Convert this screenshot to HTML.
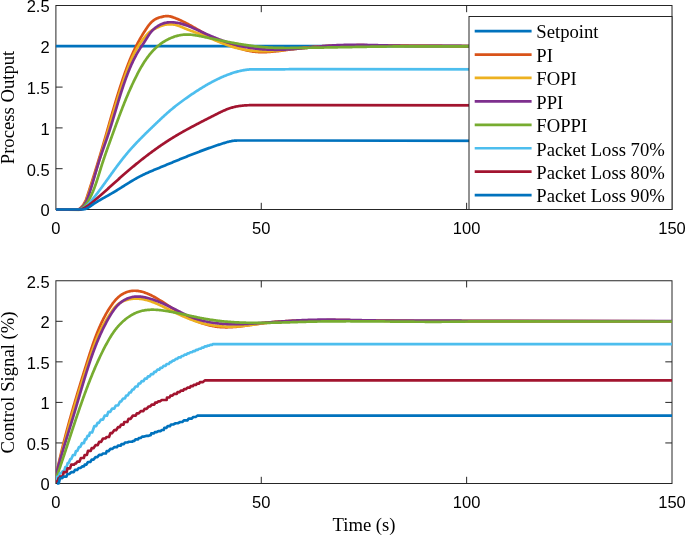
<!DOCTYPE html>
<html><head><meta charset="utf-8"><style>
html,body{margin:0;padding:0;background:#fff;width:685px;height:535px;overflow:hidden}
svg{display:block;will-change:transform}
.tk{font-family:"Liberation Sans",sans-serif;font-size:16.5px;fill:#000}
.lg{font-family:"Liberation Serif",serif;font-size:18.67px;fill:#000}
.lb{font-family:"Liberation Serif",serif;font-size:18.67px;fill:#000}
</style></head><body>
<svg width="685" height="535" viewBox="0 0 685 535">
<defs>
<clipPath id="ct"><rect x="55.9" y="5.5" width="616.10" height="206.00"/></clipPath>
<clipPath id="cb"><rect x="55.9" y="280.75" width="616.10" height="204.75"/></clipPath>
</defs>
<g class="ax">
<rect x="55.9" y="5.5" width="616.10" height="204.00" fill="none" stroke="#262626" stroke-width="1"/>
<line x1="261.27" y1="209.5" x2="261.27" y2="202.8" stroke="#262626" stroke-width="1"/><line x1="261.27" y1="5.5" x2="261.27" y2="12.2" stroke="#262626" stroke-width="1"/>
<line x1="466.63" y1="209.5" x2="466.63" y2="202.8" stroke="#262626" stroke-width="1"/><line x1="466.63" y1="5.5" x2="466.63" y2="12.2" stroke="#262626" stroke-width="1"/>
<line x1="55.9" y1="168.70" x2="62.6" y2="168.70" stroke="#262626" stroke-width="1"/><line x1="672.0" y1="168.70" x2="665.3" y2="168.70" stroke="#262626" stroke-width="1"/>
<line x1="55.9" y1="127.90" x2="62.6" y2="127.90" stroke="#262626" stroke-width="1"/><line x1="672.0" y1="127.90" x2="665.3" y2="127.90" stroke="#262626" stroke-width="1"/>
<line x1="55.9" y1="87.10" x2="62.6" y2="87.10" stroke="#262626" stroke-width="1"/><line x1="672.0" y1="87.10" x2="665.3" y2="87.10" stroke="#262626" stroke-width="1"/>
<line x1="55.9" y1="46.30" x2="62.6" y2="46.30" stroke="#262626" stroke-width="1"/><line x1="672.0" y1="46.30" x2="665.3" y2="46.30" stroke="#262626" stroke-width="1"/>

<rect x="55.9" y="280.75" width="616.10" height="202.75" fill="none" stroke="#262626" stroke-width="1"/>
<line x1="261.27" y1="483.5" x2="261.27" y2="476.8" stroke="#262626" stroke-width="1"/><line x1="261.27" y1="280.75" x2="261.27" y2="287.45" stroke="#262626" stroke-width="1"/>
<line x1="466.63" y1="483.5" x2="466.63" y2="476.8" stroke="#262626" stroke-width="1"/><line x1="466.63" y1="280.75" x2="466.63" y2="287.45" stroke="#262626" stroke-width="1"/>
<line x1="55.9" y1="442.95" x2="62.6" y2="442.95" stroke="#262626" stroke-width="1"/><line x1="672.0" y1="442.95" x2="665.3" y2="442.95" stroke="#262626" stroke-width="1"/>
<line x1="55.9" y1="402.40" x2="62.6" y2="402.40" stroke="#262626" stroke-width="1"/><line x1="672.0" y1="402.40" x2="665.3" y2="402.40" stroke="#262626" stroke-width="1"/>
<line x1="55.9" y1="361.85" x2="62.6" y2="361.85" stroke="#262626" stroke-width="1"/><line x1="672.0" y1="361.85" x2="665.3" y2="361.85" stroke="#262626" stroke-width="1"/>
<line x1="55.9" y1="321.30" x2="62.6" y2="321.30" stroke="#262626" stroke-width="1"/><line x1="672.0" y1="321.30" x2="665.3" y2="321.30" stroke="#262626" stroke-width="1"/>

</g>
<g fill="none" stroke-width="2.7" stroke-linejoin="round" stroke-linecap="butt">
<path d="M55.90,46.20 L672.00,46.20" stroke="#0072BD" clip-path="url(#ct)"/>
<path d="M55.90,209.50 L77.54,209.54 L78.35,209.25 L79.13,208.87 L79.88,208.39 L80.59,207.83 L81.27,207.22 L81.92,206.54 L82.53,205.83 L83.09,205.09 L83.62,204.33 L84.10,203.56 L84.55,202.77 L84.97,201.97 L85.36,201.15 L85.73,200.33 L86.07,199.50 L86.39,198.66 L86.70,197.81 L87.00,196.96 L87.29,196.10 L87.57,195.24 L87.85,194.38 L88.13,193.52 L88.41,192.66 L88.69,191.80 L88.97,190.94 L89.25,190.08 L89.52,189.22 L89.80,188.36 L90.08,187.50 L90.35,186.64 L90.63,185.78 L90.90,184.92 L91.18,184.06 L91.45,183.19 L91.73,182.33 L92.00,181.47 L92.27,180.61 L92.54,179.74 L92.82,178.88 L93.09,178.02 L93.36,177.15 L93.63,176.29 L93.90,175.43 L94.17,174.56 L94.44,173.70 L94.70,172.84 L94.97,171.97 L95.24,171.11 L95.51,170.24 L95.77,169.38 L96.04,168.51 L96.30,167.65 L96.57,166.78 L96.83,165.92 L97.10,165.05 L97.36,164.18 L97.62,163.32 L97.89,162.45 L98.15,161.58 L98.41,160.72 L98.67,159.85 L98.94,158.98 L99.20,158.12 L99.46,157.25 L99.72,156.38 L99.98,155.52 L100.23,154.65 L100.49,153.78 L100.75,152.91 L101.01,152.04 L101.27,151.18 L101.52,150.31 L101.78,149.44 L102.04,148.57 L102.29,147.70 L102.55,146.83 L102.80,145.96 L103.06,145.09 L103.31,144.22 L103.57,143.36 L103.82,142.49 L104.07,141.62 L104.33,140.75 L104.58,139.88 L104.83,139.01 L105.08,138.14 L105.34,137.27 L105.59,136.40 L105.84,135.52 L106.09,134.65 L106.34,133.78 L106.59,132.91 L106.84,132.04 L107.09,131.17 L107.34,130.30 L107.58,129.43 L107.83,128.56 L108.08,127.69 L108.33,126.82 L108.58,125.94 L108.83,125.07 L109.08,124.20 L109.33,123.33 L109.57,122.46 L109.82,121.59 L110.07,120.72 L110.32,119.85 L110.57,118.98 L110.82,118.10 L111.07,117.23 L111.32,116.36 L111.57,115.49 L111.82,114.62 L112.07,113.75 L112.32,112.88 L112.58,112.01 L112.83,111.14 L113.08,110.27 L113.33,109.40 L113.59,108.53 L113.84,107.66 L114.10,106.79 L114.35,105.93 L114.61,105.06 L114.87,104.19 L115.12,103.32 L115.38,102.45 L115.64,101.58 L115.90,100.72 L116.16,99.85 L116.42,98.98 L116.69,98.12 L116.95,97.25 L117.21,96.39 L117.48,95.52 L117.75,94.65 L118.01,93.79 L118.28,92.93 L118.55,92.06 L118.82,91.20 L119.09,90.33 L119.36,89.47 L119.64,88.61 L119.91,87.75 L120.19,86.88 L120.47,86.02 L120.75,85.16 L121.03,84.30 L121.31,83.44 L121.59,82.58 L121.88,81.72 L122.16,80.86 L122.45,80.01 L122.74,79.15 L123.03,78.29 L123.32,77.44 L123.62,76.58 L123.91,75.72 L124.21,74.87 L124.51,74.02 L124.81,73.16 L125.11,72.31 L125.42,71.46 L125.72,70.61 L126.03,69.75 L126.34,68.90 L126.66,68.06 L126.97,67.21 L127.29,66.36 L127.61,65.52 L127.94,64.67 L128.26,63.83 L128.59,62.99 L128.93,62.14 L129.26,61.30 L129.60,60.47 L129.94,59.63 L130.29,58.79 L130.64,57.96 L130.99,57.13 L131.35,56.30 L131.71,55.47 L132.08,54.64 L132.44,53.81 L132.82,52.99 L133.19,52.17 L133.57,51.34 L133.96,50.53 L134.35,49.71 L134.75,48.89 L135.14,48.08 L135.55,47.27 L135.96,46.46 L136.37,45.65 L136.78,44.85 L137.21,44.05 L137.63,43.25 L138.06,42.45 L138.49,41.65 L138.93,40.85 L139.37,40.06 L139.82,39.27 L140.27,38.48 L140.72,37.69 L141.18,36.91 L141.65,36.13 L142.11,35.35 L142.58,34.57 L143.06,33.79 L143.53,33.02 L144.01,32.24 L144.50,31.47 L144.99,30.70 L145.48,29.94 L145.98,29.17 L146.48,28.41 L146.99,27.66 L147.50,26.91 L148.03,26.18 L148.57,25.46 L149.13,24.75 L149.69,24.06 L150.28,23.39 L150.89,22.74 L151.51,22.11 L152.16,21.51 L152.83,20.94 L153.53,20.39 L154.26,19.88 L155.01,19.41 L155.80,18.97 L156.62,18.56 L157.47,18.20 L158.35,17.87 L159.25,17.58 L160.16,17.31 L161.08,17.07 L162.00,16.84 L162.91,16.63 L163.81,16.44 L164.71,16.28 L165.60,16.15 L166.49,16.07 L167.37,16.06 L168.25,16.11 L169.12,16.22 L170.00,16.39 L170.87,16.60 L171.74,16.84 L172.61,17.12 L173.47,17.42 L174.32,17.74 L175.17,18.07 L176.02,18.40 L176.86,18.74 L177.70,19.09 L178.54,19.45 L179.37,19.82 L180.19,20.19 L181.02,20.57 L181.83,20.96 L182.65,21.35 L183.46,21.75 L184.27,22.15 L185.08,22.56 L185.89,22.98 L186.69,23.40 L187.49,23.82 L188.29,24.25 L189.08,24.68 L189.88,25.12 L190.67,25.55 L191.46,25.99 L192.25,26.44 L193.04,26.88 L193.83,27.33 L194.61,27.78 L195.40,28.23 L196.19,28.68 L196.97,29.13 L197.76,29.58 L198.55,30.04 L199.33,30.49 L200.12,30.94 L200.91,31.39 L201.69,31.84 L202.48,32.29 L203.27,32.74 L204.06,33.19 L204.85,33.63 L205.64,34.08 L206.43,34.52 L207.22,34.96 L208.02,35.39 L208.81,35.82 L209.61,36.25 L210.41,36.68 L211.21,37.10 L212.01,37.52 L212.82,37.93 L213.62,38.34 L214.43,38.74 L215.24,39.14 L216.06,39.53 L216.88,39.92 L217.69,40.30 L218.52,40.68 L219.34,41.05 L220.17,41.41 L221.00,41.77 L221.83,42.12 L222.66,42.47 L223.50,42.81 L224.34,43.15 L225.18,43.49 L226.03,43.81 L226.87,44.14 L227.72,44.46 L228.57,44.77 L229.42,45.08 L230.27,45.39 L231.13,45.69 L231.99,45.99 L232.85,46.29 L233.71,46.58 L234.57,46.87 L235.43,47.16 L236.30,47.44 L237.17,47.72 L238.03,47.99 L238.90,48.26 L239.78,48.53 L240.65,48.79 L241.52,49.04 L242.40,49.28 L243.28,49.52 L244.16,49.76 L245.04,49.98 L245.92,50.19 L246.80,50.40 L247.69,50.60 L248.57,50.78 L249.46,50.96 L250.35,51.13 L251.24,51.28 L252.13,51.42 L253.03,51.55 L253.92,51.67 L254.82,51.77 L255.72,51.86 L256.62,51.94 L257.52,52.00 L258.42,52.05 L259.33,52.09 L260.23,52.12 L261.14,52.14 L262.04,52.15 L262.95,52.14 L263.85,52.13 L264.76,52.11 L265.67,52.08 L266.57,52.05 L267.48,52.00 L268.38,51.95 L269.29,51.89 L270.19,51.83 L271.09,51.76 L272.00,51.69 L272.90,51.61 L273.80,51.52 L274.70,51.43 L275.60,51.34 L276.51,51.24 L277.41,51.14 L278.31,51.04 L279.21,50.93 L280.11,50.82 L281.01,50.70 L281.91,50.59 L282.81,50.47 L283.70,50.35 L284.60,50.23 L285.50,50.10 L286.40,49.98 L287.30,49.85 L288.20,49.73 L289.10,49.60 L290.00,49.48 L290.89,49.35 L291.79,49.23 L292.69,49.10 L293.59,48.98 L294.49,48.86 L295.39,48.74 L296.29,48.62 L297.19,48.51 L298.09,48.40 L298.98,48.29 L299.88,48.18 L300.78,48.07 L301.68,47.97 L302.58,47.87 L303.48,47.77 L304.38,47.68 L305.29,47.58 L306.19,47.49 L307.09,47.40 L307.99,47.32 L308.89,47.23 L309.79,47.15 L310.69,47.07 L311.59,46.99 L312.49,46.91 L313.40,46.84 L314.30,46.77 L315.20,46.70 L316.10,46.63 L317.01,46.56 L317.91,46.50 L318.81,46.44 L319.71,46.38 L320.62,46.32 L321.52,46.26 L322.42,46.21 L323.32,46.15 L324.23,46.10 L325.13,46.05 L326.03,46.00 L326.94,45.96 L327.84,45.91 L328.75,45.87 L329.65,45.83 L330.55,45.79 L331.46,45.75 L332.36,45.71 L333.27,45.68 L334.17,45.65 L335.07,45.61 L335.98,45.58 L336.88,45.55 L337.79,45.53 L338.69,45.50 L339.60,45.47 L340.50,45.45 L341.41,45.43 L342.31,45.41 L343.22,45.39 L344.12,45.37 L345.03,45.35 L345.93,45.33 L346.84,45.32 L347.74,45.31 L348.65,45.29 L349.55,45.28 L350.46,45.27 L351.36,45.26 L352.27,45.25 L353.18,45.24 L354.08,45.24 L354.99,45.23 L355.89,45.23 L356.80,45.22 L357.70,45.22 L358.61,45.22 L359.52,45.22 L360.42,45.22 L361.33,45.22 L362.23,45.22 L363.14,45.22 L364.05,45.22 L364.95,45.23 L365.86,45.23 L366.76,45.23 L367.67,45.24 L368.58,45.25 L369.48,45.25 L370.39,45.26 L371.30,45.27 L372.20,45.27 L373.11,45.28 L374.01,45.29 L374.92,45.30 L375.83,45.31 L376.73,45.32 L377.64,45.33 L378.55,45.34 L379.45,45.35 L380.36,45.36 L381.26,45.37 L382.17,45.39 L383.08,45.40 L383.98,45.41 L384.89,45.42 L385.79,45.43 L386.70,45.45 L387.61,45.46 L388.51,45.47 L389.42,45.49 L390.32,45.50 L391.23,45.51 L392.14,45.52 L393.04,45.54 L393.95,45.55 L394.85,45.56 L395.76,45.57 L396.67,45.59 L397.57,45.60 L398.48,45.61 L399.38,45.62 L400.29,45.63 L401.19,45.64 L402.10,45.65 L403.00,45.66 L403.91,45.67 L404.81,45.68 L405.72,45.69 L406.63,45.70 L407.53,45.71 L408.44,45.72 L409.34,45.73 L410.25,45.74 L411.15,45.75 L412.06,45.76 L412.96,45.77 L413.87,45.77 L414.77,45.78 L415.68,45.79 L416.58,45.80 L417.49,45.80 L418.39,45.81 L419.30,45.82 L420.20,45.82 L421.10,45.83 L422.01,45.84 L422.91,45.85 L423.82,45.85 L424.72,45.86 L425.63,45.86 L426.53,45.87 L427.44,45.88 L428.34,45.88 L429.25,45.89 L430.15,45.89 L431.06,45.90 L431.96,45.91 L432.87,45.91 L433.77,45.92 L434.68,45.92 L435.58,45.93 L436.49,45.94 L437.39,45.94 L438.30,45.95 L439.20,45.95 L440.11,45.96 L441.01,45.96 L441.92,45.97 L442.82,45.98 L443.73,45.98 L444.63,45.99 L445.54,45.99 L446.44,46.00 L447.35,46.01 L448.25,46.01 L449.16,46.02 L450.06,46.03 L450.97,46.03 L451.88,46.04 L452.78,46.05 L453.69,46.05 L454.59,46.06 L455.50,46.07 L456.40,46.07 L457.31,46.08 L458.22,46.09 L459.12,46.10 L460.03,46.10 L460.93,46.11 L461.84,46.12 L462.75,46.13 L463.65,46.14 L464.56,46.14 L465.47,46.15 L466.37,46.16 L467.28,46.17 L468.19,46.18 L469.09,46.19 L470.00,46.20" stroke="#D95319" clip-path="url(#ct)"/>
<path d="M55.90,209.50 L78.02,209.59 L78.84,209.26 L79.62,208.86 L80.36,208.38 L81.06,207.83 L81.72,207.24 L82.35,206.59 L82.93,205.91 L83.48,205.20 L83.99,204.47 L84.47,203.72 L84.92,202.96 L85.33,202.19 L85.72,201.40 L86.09,200.59 L86.44,199.78 L86.77,198.96 L87.09,198.13 L87.39,197.30 L87.69,196.46 L87.97,195.62 L88.26,194.78 L88.54,193.94 L88.83,193.10 L89.11,192.26 L89.39,191.41 L89.67,190.57 L89.95,189.73 L90.23,188.88 L90.51,188.04 L90.78,187.20 L91.06,186.35 L91.34,185.51 L91.61,184.66 L91.89,183.82 L92.16,182.98 L92.43,182.13 L92.70,181.29 L92.97,180.44 L93.24,179.60 L93.51,178.75 L93.78,177.90 L94.05,177.06 L94.32,176.21 L94.59,175.37 L94.85,174.52 L95.12,173.67 L95.38,172.83 L95.65,171.98 L95.91,171.13 L96.17,170.29 L96.44,169.44 L96.70,168.59 L96.96,167.75 L97.22,166.90 L97.48,166.05 L97.74,165.20 L98.00,164.36 L98.26,163.51 L98.52,162.66 L98.78,161.81 L99.04,160.96 L99.29,160.11 L99.55,159.27 L99.81,158.42 L100.06,157.57 L100.32,156.72 L100.57,155.87 L100.83,155.02 L101.08,154.17 L101.34,153.32 L101.59,152.47 L101.85,151.62 L102.10,150.77 L102.35,149.92 L102.61,149.07 L102.86,148.22 L103.11,147.37 L103.36,146.52 L103.62,145.67 L103.87,144.82 L104.12,143.97 L104.37,143.12 L104.62,142.27 L104.87,141.42 L105.12,140.57 L105.37,139.72 L105.63,138.87 L105.88,138.02 L106.13,137.17 L106.38,136.32 L106.63,135.47 L106.88,134.62 L107.13,133.77 L107.38,132.91 L107.63,132.06 L107.88,131.21 L108.13,130.36 L108.38,129.51 L108.63,128.66 L108.88,127.81 L109.13,126.96 L109.38,126.10 L109.64,125.25 L109.89,124.40 L110.14,123.55 L110.39,122.70 L110.64,121.85 L110.89,121.00 L111.15,120.15 L111.40,119.30 L111.65,118.45 L111.91,117.60 L112.16,116.74 L112.41,115.89 L112.67,115.04 L112.92,114.19 L113.18,113.34 L113.43,112.49 L113.69,111.64 L113.94,110.79 L114.20,109.94 L114.46,109.10 L114.71,108.25 L114.97,107.40 L115.23,106.55 L115.49,105.70 L115.75,104.85 L116.01,104.00 L116.27,103.15 L116.53,102.31 L116.79,101.46 L117.06,100.61 L117.32,99.76 L117.58,98.92 L117.85,98.07 L118.11,97.22 L118.38,96.38 L118.65,95.53 L118.92,94.68 L119.18,93.84 L119.45,92.99 L119.72,92.15 L119.99,91.30 L120.26,90.46 L120.54,89.61 L120.81,88.77 L121.08,87.93 L121.36,87.08 L121.64,86.24 L121.91,85.40 L122.19,84.55 L122.47,83.71 L122.75,82.87 L123.03,82.03 L123.31,81.19 L123.60,80.35 L123.88,79.51 L124.16,78.67 L124.45,77.83 L124.74,76.99 L125.03,76.15 L125.32,75.31 L125.61,74.47 L125.90,73.64 L126.19,72.80 L126.49,71.97 L126.79,71.13 L127.09,70.30 L127.39,69.46 L127.70,68.63 L128.00,67.80 L128.32,66.97 L128.63,66.14 L128.95,65.32 L129.27,64.49 L129.60,63.67 L129.93,62.85 L130.27,62.03 L130.61,61.21 L130.95,60.40 L131.30,59.58 L131.66,58.77 L132.02,57.96 L132.39,57.16 L132.76,56.35 L133.14,55.55 L133.53,54.76 L133.92,53.96 L134.32,53.17 L134.73,52.38 L135.14,51.60 L135.57,50.81 L136.00,50.04 L136.44,49.26 L136.88,48.49 L137.34,47.72 L137.80,46.96 L138.27,46.20 L138.75,45.44 L139.23,44.69 L139.72,43.95 L140.22,43.21 L140.73,42.48 L141.25,41.75 L141.77,41.02 L142.30,40.31 L142.83,39.60 L143.38,38.89 L143.93,38.20 L144.48,37.50 L145.05,36.82 L145.62,36.15 L146.19,35.48 L146.78,34.82 L147.37,34.17 L147.98,33.55 L148.61,32.94 L149.25,32.35 L149.92,31.79 L150.61,31.25 L151.32,30.75 L152.06,30.28 L152.82,29.83 L153.60,29.41 L154.39,29.00 L155.20,28.61 L156.01,28.22 L156.82,27.84 L157.63,27.46 L158.45,27.08 L159.26,26.71 L160.08,26.36 L160.91,26.03 L161.74,25.71 L162.58,25.43 L163.43,25.17 L164.29,24.95 L165.16,24.76 L166.03,24.60 L166.91,24.47 L167.79,24.38 L168.67,24.31 L169.56,24.28 L170.44,24.28 L171.33,24.31 L172.21,24.38 L173.08,24.47 L173.96,24.60 L174.82,24.77 L175.68,24.96 L176.54,25.19 L177.38,25.44 L178.22,25.72 L179.06,26.02 L179.89,26.33 L180.72,26.66 L181.55,26.99 L182.38,27.34 L183.20,27.69 L184.02,28.04 L184.85,28.38 L185.67,28.72 L186.50,29.06 L187.33,29.39 L188.16,29.71 L188.99,30.02 L189.82,30.34 L190.65,30.65 L191.48,30.95 L192.31,31.26 L193.14,31.56 L193.97,31.86 L194.80,32.16 L195.63,32.47 L196.46,32.77 L197.29,33.07 L198.12,33.38 L198.95,33.69 L199.78,34.00 L200.60,34.31 L201.43,34.63 L202.25,34.96 L203.07,35.28 L203.90,35.61 L204.72,35.95 L205.54,36.28 L206.36,36.62 L207.18,36.96 L207.99,37.30 L208.81,37.64 L209.63,37.98 L210.45,38.32 L211.27,38.67 L212.08,39.01 L212.90,39.36 L213.72,39.70 L214.54,40.04 L215.36,40.38 L216.18,40.73 L217.00,41.07 L217.82,41.40 L218.64,41.74 L219.46,42.07 L220.29,42.40 L221.11,42.73 L221.93,43.06 L222.76,43.38 L223.59,43.70 L224.42,44.01 L225.25,44.32 L226.08,44.62 L226.91,44.92 L227.75,45.22 L228.59,45.51 L229.42,45.79 L230.27,46.07 L231.11,46.34 L231.95,46.61 L232.80,46.87 L233.65,47.12 L234.50,47.36 L235.36,47.60 L236.22,47.83 L237.08,48.05 L237.94,48.26 L238.80,48.47 L239.67,48.66 L240.54,48.86 L241.41,49.04 L242.28,49.21 L243.15,49.38 L244.03,49.54 L244.91,49.70 L245.79,49.84 L246.67,49.98 L247.55,50.11 L248.43,50.23 L249.31,50.35 L250.20,50.46 L251.08,50.56 L251.97,50.66 L252.86,50.75 L253.75,50.83 L254.64,50.90 L255.53,50.97 L256.42,51.03 L257.31,51.08 L258.20,51.13 L259.09,51.17 L259.98,51.20 L260.87,51.22 L261.76,51.24 L262.65,51.26 L263.54,51.26 L264.43,51.26 L265.31,51.25 L266.20,51.24 L267.09,51.22 L267.98,51.19 L268.86,51.16 L269.75,51.12 L270.63,51.07 L271.51,51.02 L272.40,50.97 L273.28,50.91 L274.16,50.84 L275.04,50.78 L275.93,50.71 L276.81,50.63 L277.69,50.56 L278.57,50.48 L279.45,50.40 L280.33,50.32 L281.21,50.24 L282.09,50.15 L282.97,50.07 L283.85,49.99 L284.73,49.90 L285.62,49.82 L286.50,49.74 L287.38,49.65 L288.26,49.57 L289.14,49.49 L290.03,49.40 L290.91,49.32 L291.79,49.23 L292.67,49.15 L293.56,49.07 L294.44,48.98 L295.32,48.90 L296.21,48.82 L297.09,48.74 L297.97,48.65 L298.86,48.57 L299.74,48.49 L300.62,48.41 L301.51,48.33 L302.39,48.25 L303.27,48.17 L304.16,48.09 L305.04,48.01 L305.93,47.94 L306.81,47.86 L307.70,47.78 L308.58,47.71 L309.47,47.63 L310.35,47.56 L311.24,47.49 L312.12,47.42 L313.01,47.35 L313.89,47.28 L314.78,47.21 L315.66,47.14 L316.55,47.07 L317.43,47.01 L318.32,46.94 L319.20,46.88 L320.09,46.82 L320.98,46.76 L321.86,46.70 L322.75,46.64 L323.63,46.59 L324.52,46.53 L325.41,46.48 L326.29,46.43 L327.18,46.38 L328.06,46.33 L328.95,46.28 L329.84,46.23 L330.72,46.19 L331.61,46.15 L332.50,46.11 L333.38,46.07 L334.27,46.03 L335.15,46.00 L336.04,45.96 L336.93,45.93 L337.81,45.90 L338.70,45.87 L339.59,45.84 L340.47,45.81 L341.36,45.79 L342.25,45.76 L343.13,45.74 L344.02,45.72 L344.91,45.70 L345.79,45.68 L346.68,45.66 L347.57,45.65 L348.46,45.63 L349.34,45.62 L350.23,45.60 L351.12,45.59 L352.00,45.58 L352.89,45.57 L353.78,45.56 L354.66,45.56 L355.55,45.55 L356.44,45.54 L357.33,45.54 L358.21,45.53 L359.10,45.53 L359.99,45.53 L360.87,45.53 L361.76,45.53 L362.65,45.53 L363.54,45.53 L364.42,45.53 L365.31,45.53 L366.20,45.53 L367.08,45.54 L367.97,45.54 L368.86,45.54 L369.75,45.55 L370.63,45.55 L371.52,45.56 L372.41,45.57 L373.30,45.57 L374.18,45.58 L375.07,45.59 L375.96,45.60 L376.85,45.61 L377.73,45.62 L378.62,45.62 L379.51,45.63 L380.39,45.64 L381.28,45.65 L382.17,45.66 L383.06,45.67 L383.94,45.68 L384.83,45.69 L385.72,45.70 L386.61,45.71 L387.49,45.72 L388.38,45.74 L389.27,45.75 L390.16,45.76 L391.04,45.77 L391.93,45.78 L392.82,45.79 L393.70,45.80 L394.59,45.81 L395.48,45.82 L396.37,45.82 L397.25,45.83 L398.14,45.84 L399.03,45.85 L399.92,45.86 L400.80,45.87 L401.69,45.87 L402.58,45.88 L403.46,45.89 L404.35,45.89 L405.24,45.90 L406.13,45.90 L407.01,45.91 L407.90,45.91 L408.79,45.92 L409.67,45.92 L410.56,45.93 L411.45,45.93 L412.34,45.94 L413.22,45.94 L414.11,45.94 L415.00,45.95 L415.88,45.95 L416.77,45.95 L417.66,45.95 L418.54,45.96 L419.43,45.96 L420.32,45.96 L421.21,45.96 L422.09,45.96 L422.98,45.97 L423.87,45.97 L424.75,45.97 L425.64,45.97 L426.53,45.97 L427.42,45.97 L428.30,45.98 L429.19,45.98 L430.08,45.98 L430.96,45.98 L431.85,45.98 L432.74,45.98 L433.62,45.98 L434.51,45.98 L435.40,45.99 L436.29,45.99 L437.17,45.99 L438.06,45.99 L438.95,45.99 L439.83,45.99 L440.72,46.00 L441.61,46.00 L442.50,46.00 L443.38,46.00 L444.27,46.01 L445.16,46.01 L446.04,46.01 L446.93,46.02 L447.82,46.02 L448.70,46.02 L449.59,46.03 L450.48,46.03 L451.37,46.03 L452.25,46.04 L453.14,46.04 L454.03,46.05 L454.92,46.05 L455.80,46.06 L456.69,46.07 L457.58,46.07 L458.46,46.08 L459.35,46.09 L460.24,46.09 L461.13,46.10 L462.01,46.11 L462.90,46.12 L463.79,46.13 L464.68,46.14 L465.56,46.15 L466.45,46.16 L467.34,46.17 L468.23,46.18 L469.11,46.19 L470.00,46.20" stroke="#EDB120" clip-path="url(#ct)"/>
<path d="M55.90,209.50 L78.03,209.71 L78.88,209.30 L79.68,208.86 L80.43,208.37 L81.14,207.85 L81.81,207.29 L82.44,206.70 L83.04,206.08 L83.60,205.42 L84.12,204.74 L84.62,204.03 L85.09,203.30 L85.53,202.55 L85.95,201.78 L86.35,200.99 L86.73,200.19 L87.08,199.37 L87.43,198.54 L87.76,197.71 L88.08,196.86 L88.39,196.01 L88.69,195.16 L88.99,194.31 L89.28,193.46 L89.57,192.61 L89.86,191.76 L90.14,190.91 L90.42,190.05 L90.69,189.20 L90.97,188.35 L91.24,187.50 L91.50,186.65 L91.76,185.80 L92.02,184.95 L92.28,184.09 L92.54,183.24 L92.79,182.39 L93.05,181.54 L93.30,180.69 L93.55,179.84 L93.79,178.99 L94.04,178.14 L94.29,177.29 L94.53,176.44 L94.78,175.59 L95.02,174.74 L95.27,173.89 L95.51,173.04 L95.76,172.19 L96.00,171.34 L96.25,170.50 L96.50,169.65 L96.75,168.80 L97.00,167.96 L97.25,167.11 L97.50,166.26 L97.75,165.42 L98.01,164.57 L98.27,163.73 L98.53,162.88 L98.79,162.04 L99.05,161.20 L99.32,160.36 L99.59,159.51 L99.87,158.67 L100.14,157.83 L100.42,156.99 L100.71,156.15 L100.99,155.31 L101.28,154.47 L101.56,153.64 L101.85,152.80 L102.15,151.96 L102.44,151.12 L102.73,150.28 L103.03,149.45 L103.32,148.61 L103.62,147.77 L103.92,146.93 L104.21,146.09 L104.51,145.26 L104.81,144.42 L105.10,143.58 L105.40,142.74 L105.69,141.90 L105.99,141.06 L106.28,140.22 L106.57,139.38 L106.87,138.54 L107.15,137.70 L107.44,136.86 L107.73,136.02 L108.01,135.18 L108.29,134.33 L108.57,133.49 L108.85,132.65 L109.12,131.80 L109.40,130.96 L109.67,130.11 L109.94,129.26 L110.21,128.42 L110.48,127.57 L110.74,126.72 L111.01,125.88 L111.27,125.03 L111.53,124.18 L111.79,123.33 L112.05,122.48 L112.31,121.63 L112.57,120.78 L112.83,119.93 L113.08,119.08 L113.34,118.23 L113.59,117.38 L113.85,116.53 L114.10,115.68 L114.36,114.83 L114.61,113.98 L114.86,113.13 L115.11,112.28 L115.37,111.43 L115.62,110.58 L115.87,109.73 L116.12,108.88 L116.38,108.03 L116.63,107.18 L116.88,106.33 L117.14,105.48 L117.39,104.63 L117.64,103.78 L117.90,102.93 L118.16,102.08 L118.41,101.23 L118.67,100.38 L118.93,99.53 L119.19,98.68 L119.45,97.84 L119.71,96.99 L119.97,96.14 L120.23,95.30 L120.50,94.45 L120.76,93.60 L121.03,92.76 L121.30,91.91 L121.57,91.07 L121.84,90.23 L122.12,89.38 L122.39,88.54 L122.67,87.70 L122.95,86.86 L123.23,86.02 L123.51,85.18 L123.80,84.34 L124.09,83.50 L124.38,82.66 L124.67,81.83 L124.96,80.99 L125.26,80.15 L125.56,79.32 L125.86,78.49 L126.17,77.65 L126.48,76.82 L126.79,75.99 L127.10,75.16 L127.42,74.33 L127.74,73.50 L128.06,72.68 L128.39,71.85 L128.72,71.03 L129.06,70.20 L129.39,69.38 L129.73,68.56 L130.08,67.74 L130.43,66.93 L130.78,66.11 L131.14,65.30 L131.50,64.49 L131.87,63.69 L132.24,62.88 L132.62,62.08 L133.00,61.28 L133.38,60.48 L133.77,59.68 L134.17,58.89 L134.57,58.10 L134.98,57.31 L135.39,56.53 L135.81,55.75 L136.23,54.97 L136.66,54.20 L137.10,53.43 L137.54,52.66 L137.99,51.90 L138.44,51.14 L138.90,50.38 L139.37,49.63 L139.84,48.88 L140.32,48.14 L140.80,47.39 L141.29,46.65 L141.78,45.91 L142.27,45.17 L142.76,44.43 L143.25,43.69 L143.74,42.94 L144.22,42.20 L144.71,41.45 L145.19,40.70 L145.66,39.95 L146.13,39.19 L146.60,38.43 L147.07,37.67 L147.55,36.91 L148.03,36.16 L148.52,35.41 L149.02,34.67 L149.53,33.95 L150.06,33.23 L150.60,32.53 L151.17,31.84 L151.76,31.17 L152.36,30.52 L152.98,29.88 L153.63,29.27 L154.29,28.67 L154.96,28.10 L155.66,27.54 L156.37,27.01 L157.09,26.51 L157.83,26.02 L158.58,25.56 L159.35,25.13 L160.13,24.73 L160.93,24.35 L161.73,24.00 L162.55,23.68 L163.38,23.39 L164.22,23.13 L165.07,22.90 L165.93,22.71 L166.79,22.55 L167.67,22.42 L168.55,22.33 L169.44,22.27 L170.34,22.24 L171.23,22.23 L172.13,22.26 L173.03,22.31 L173.93,22.38 L174.82,22.47 L175.71,22.59 L176.60,22.72 L177.47,22.87 L178.35,23.04 L179.21,23.22 L180.08,23.42 L180.93,23.63 L181.79,23.85 L182.63,24.09 L183.48,24.35 L184.32,24.61 L185.15,24.89 L185.98,25.18 L186.81,25.47 L187.64,25.78 L188.46,26.10 L189.28,26.42 L190.10,26.75 L190.92,27.09 L191.73,27.44 L192.54,27.79 L193.35,28.14 L194.16,28.50 L194.97,28.87 L195.78,29.24 L196.59,29.61 L197.40,29.98 L198.20,30.35 L199.01,30.72 L199.82,31.09 L200.63,31.47 L201.44,31.84 L202.25,32.21 L203.06,32.58 L203.87,32.94 L204.69,33.31 L205.50,33.67 L206.32,34.03 L207.13,34.39 L207.95,34.75 L208.77,35.11 L209.59,35.46 L210.41,35.82 L211.23,36.16 L212.05,36.51 L212.87,36.86 L213.70,37.20 L214.52,37.54 L215.35,37.87 L216.18,38.21 L217.01,38.53 L217.84,38.86 L218.67,39.18 L219.50,39.50 L220.33,39.82 L221.16,40.13 L222.00,40.44 L222.84,40.74 L223.67,41.04 L224.51,41.34 L225.35,41.63 L226.19,41.92 L227.04,42.20 L227.88,42.48 L228.72,42.75 L229.57,43.02 L230.42,43.28 L231.27,43.54 L232.12,43.80 L232.97,44.04 L233.82,44.29 L234.67,44.52 L235.53,44.76 L236.39,44.98 L237.25,45.20 L238.10,45.42 L238.97,45.62 L239.83,45.83 L240.69,46.03 L241.55,46.22 L242.42,46.41 L243.29,46.59 L244.15,46.76 L245.02,46.94 L245.89,47.10 L246.76,47.26 L247.63,47.42 L248.51,47.57 L249.38,47.71 L250.26,47.85 L251.13,47.99 L252.01,48.11 L252.88,48.24 L253.76,48.36 L254.64,48.47 L255.52,48.58 L256.40,48.69 L257.28,48.78 L258.16,48.88 L259.04,48.97 L259.92,49.05 L260.81,49.13 L261.69,49.21 L262.57,49.28 L263.46,49.34 L264.34,49.41 L265.23,49.46 L266.11,49.51 L267.00,49.56 L267.88,49.60 L268.77,49.64 L269.66,49.68 L270.54,49.70 L271.43,49.73 L272.32,49.75 L273.20,49.77 L274.09,49.78 L274.98,49.78 L275.87,49.79 L276.75,49.79 L277.64,49.78 L278.53,49.77 L279.41,49.76 L280.30,49.74 L281.19,49.72 L282.08,49.69 L282.96,49.66 L283.85,49.63 L284.73,49.59 L285.62,49.55 L286.51,49.50 L287.39,49.45 L288.28,49.40 L289.16,49.35 L290.05,49.29 L290.93,49.23 L291.82,49.17 L292.70,49.10 L293.59,49.03 L294.47,48.96 L295.36,48.89 L296.24,48.81 L297.13,48.73 L298.01,48.65 L298.89,48.57 L299.78,48.49 L300.66,48.41 L301.55,48.32 L302.43,48.23 L303.31,48.15 L304.20,48.06 L305.08,47.97 L305.96,47.88 L306.85,47.79 L307.73,47.69 L308.61,47.60 L309.50,47.51 L310.38,47.42 L311.26,47.32 L312.15,47.23 L313.03,47.14 L313.91,47.05 L314.80,46.96 L315.68,46.87 L316.57,46.78 L317.45,46.69 L318.33,46.60 L319.22,46.52 L320.10,46.43 L320.98,46.35 L321.87,46.27 L322.75,46.19 L323.63,46.11 L324.52,46.03 L325.40,45.96 L326.29,45.88 L327.17,45.81 L328.06,45.74 L328.94,45.68 L329.83,45.62 L330.71,45.56 L331.59,45.50 L332.48,45.45 L333.37,45.39 L334.25,45.35 L335.14,45.30 L336.02,45.26 L336.91,45.22 L337.79,45.18 L338.68,45.14 L339.56,45.11 L340.45,45.08 L341.34,45.05 L342.22,45.02 L343.11,44.99 L344.00,44.97 L344.88,44.95 L345.77,44.93 L346.65,44.92 L347.54,44.90 L348.43,44.89 L349.31,44.88 L350.20,44.87 L351.09,44.86 L351.98,44.85 L352.86,44.85 L353.75,44.85 L354.64,44.85 L355.52,44.85 L356.41,44.85 L357.30,44.85 L358.19,44.86 L359.07,44.86 L359.96,44.87 L360.85,44.88 L361.74,44.89 L362.63,44.90 L363.51,44.91 L364.40,44.92 L365.29,44.94 L366.18,44.95 L367.06,44.97 L367.95,44.99 L368.84,45.00 L369.73,45.02 L370.62,45.04 L371.50,45.06 L372.39,45.08 L373.28,45.10 L374.17,45.12 L375.06,45.14 L375.94,45.16 L376.83,45.19 L377.72,45.21 L378.61,45.23 L379.50,45.25 L380.39,45.28 L381.27,45.30 L382.16,45.32 L383.05,45.35 L383.94,45.37 L384.83,45.39 L385.71,45.41 L386.60,45.44 L387.49,45.46 L388.38,45.48 L389.27,45.50 L390.15,45.52 L391.04,45.55 L391.93,45.57 L392.82,45.59 L393.70,45.61 L394.59,45.62 L395.48,45.64 L396.37,45.66 L397.25,45.68 L398.14,45.69 L399.03,45.71 L399.92,45.72 L400.80,45.73 L401.69,45.75 L402.58,45.76 L403.47,45.77 L404.35,45.78 L405.24,45.79 L406.13,45.79 L407.01,45.80 L407.90,45.81 L408.79,45.81 L409.68,45.82 L410.56,45.82 L411.45,45.83 L412.34,45.83 L413.22,45.83 L414.11,45.83 L415.00,45.84 L415.88,45.84 L416.77,45.84 L417.66,45.84 L418.54,45.84 L419.43,45.84 L420.32,45.84 L421.20,45.84 L422.09,45.84 L422.98,45.83 L423.86,45.83 L424.75,45.83 L425.64,45.83 L426.52,45.83 L427.41,45.82 L428.30,45.82 L429.18,45.82 L430.07,45.82 L430.96,45.81 L431.84,45.81 L432.73,45.81 L433.61,45.81 L434.50,45.81 L435.39,45.81 L436.27,45.80 L437.16,45.80 L438.05,45.80 L438.93,45.80 L439.82,45.80 L440.71,45.80 L441.60,45.80 L442.48,45.80 L443.37,45.80 L444.26,45.81 L445.14,45.81 L446.03,45.81 L446.92,45.82 L447.80,45.82 L448.69,45.82 L449.58,45.83 L450.47,45.84 L451.35,45.84 L452.24,45.85 L453.13,45.86 L454.01,45.87 L454.90,45.88 L455.79,45.89 L456.68,45.90 L457.57,45.91 L458.45,45.93 L459.34,45.94 L460.23,45.96 L461.12,45.97 L462.00,45.99 L462.89,46.01 L463.78,46.03 L464.67,46.05 L465.56,46.08 L466.45,46.10 L467.33,46.12 L468.22,46.15 L469.11,46.18 L470.00,46.21" stroke="#7E2F8E" clip-path="url(#ct)"/>
<path d="M55.90,209.50 L79.19,209.83 L79.94,209.46 L80.66,209.04 L81.36,208.59 L82.02,208.11 L82.66,207.59 L83.28,207.04 L83.87,206.47 L84.45,205.87 L85.01,205.25 L85.55,204.62 L86.07,203.96 L86.58,203.30 L87.08,202.61 L87.56,201.92 L88.03,201.21 L88.49,200.48 L88.93,199.75 L89.36,199.00 L89.78,198.25 L90.19,197.49 L90.59,196.72 L90.97,195.94 L91.35,195.15 L91.72,194.36 L92.07,193.56 L92.42,192.76 L92.77,191.96 L93.10,191.16 L93.43,190.35 L93.75,189.54 L94.06,188.74 L94.37,187.93 L94.67,187.12 L94.97,186.31 L95.26,185.50 L95.55,184.70 L95.83,183.89 L96.11,183.08 L96.39,182.27 L96.66,181.46 L96.92,180.65 L97.19,179.84 L97.45,179.03 L97.71,178.22 L97.97,177.42 L98.22,176.61 L98.47,175.80 L98.73,174.99 L98.98,174.18 L99.23,173.37 L99.48,172.56 L99.73,171.75 L99.98,170.94 L100.23,170.13 L100.48,169.32 L100.73,168.51 L100.98,167.70 L101.23,166.89 L101.49,166.08 L101.75,165.27 L102.01,164.46 L102.27,163.65 L102.53,162.84 L102.80,162.03 L103.06,161.22 L103.33,160.41 L103.60,159.60 L103.88,158.79 L104.15,157.98 L104.43,157.17 L104.70,156.36 L104.98,155.55 L105.26,154.74 L105.54,153.93 L105.82,153.12 L106.11,152.31 L106.39,151.50 L106.67,150.69 L106.96,149.88 L107.25,149.07 L107.53,148.27 L107.82,147.46 L108.11,146.65 L108.40,145.84 L108.69,145.03 L108.98,144.22 L109.27,143.42 L109.57,142.61 L109.86,141.80 L110.15,140.99 L110.44,140.18 L110.73,139.38 L111.03,138.57 L111.32,137.76 L111.61,136.96 L111.91,136.15 L112.20,135.34 L112.49,134.54 L112.78,133.73 L113.07,132.93 L113.37,132.12 L113.66,131.32 L113.95,130.51 L114.24,129.71 L114.54,128.90 L114.83,128.10 L115.12,127.29 L115.41,126.49 L115.71,125.69 L116.00,124.88 L116.29,124.08 L116.59,123.28 L116.88,122.48 L117.18,121.67 L117.47,120.87 L117.77,120.07 L118.07,119.27 L118.36,118.47 L118.66,117.67 L118.96,116.87 L119.26,116.07 L119.56,115.27 L119.86,114.47 L120.16,113.68 L120.47,112.88 L120.77,112.08 L121.08,111.28 L121.38,110.49 L121.69,109.69 L122.00,108.90 L122.30,108.10 L122.61,107.31 L122.93,106.51 L123.24,105.72 L123.55,104.93 L123.87,104.14 L124.18,103.34 L124.50,102.55 L124.82,101.76 L125.14,100.97 L125.46,100.18 L125.79,99.39 L126.11,98.60 L126.44,97.82 L126.77,97.03 L127.10,96.24 L127.43,95.46 L127.76,94.67 L128.10,93.89 L128.43,93.10 L128.77,92.32 L129.11,91.54 L129.46,90.75 L129.80,89.97 L130.15,89.19 L130.50,88.41 L130.85,87.63 L131.20,86.85 L131.56,86.08 L131.91,85.30 L132.27,84.52 L132.63,83.75 L133.00,82.97 L133.36,82.20 L133.73,81.42 L134.10,80.65 L134.48,79.88 L134.85,79.11 L135.23,78.34 L135.61,77.57 L136.00,76.80 L136.39,76.03 L136.77,75.26 L137.17,74.50 L137.56,73.73 L137.96,72.97 L138.36,72.21 L138.77,71.45 L139.17,70.69 L139.59,69.93 L140.00,69.18 L140.42,68.43 L140.85,67.68 L141.27,66.93 L141.71,66.19 L142.15,65.45 L142.59,64.71 L143.04,63.98 L143.49,63.25 L143.95,62.53 L144.41,61.81 L144.88,61.09 L145.35,60.38 L145.84,59.67 L146.32,58.97 L146.82,58.28 L147.32,57.59 L147.82,56.90 L148.34,56.22 L148.86,55.55 L149.38,54.88 L149.92,54.22 L150.46,53.57 L151.01,52.92 L151.56,52.28 L152.13,51.65 L152.70,51.02 L153.28,50.41 L153.87,49.80 L154.47,49.20 L155.08,48.60 L155.69,48.02 L156.32,47.44 L156.95,46.87 L157.59,46.32 L158.25,45.77 L158.91,45.23 L159.58,44.70 L160.26,44.18 L160.95,43.67 L161.65,43.17 L162.36,42.68 L163.07,42.20 L163.80,41.74 L164.53,41.28 L165.27,40.84 L166.01,40.41 L166.77,39.99 L167.52,39.59 L168.29,39.20 L169.06,38.82 L169.84,38.46 L170.63,38.11 L171.42,37.77 L172.21,37.45 L173.01,37.15 L173.82,36.86 L174.63,36.58 L175.44,36.32 L176.26,36.08 L177.09,35.86 L177.91,35.65 L178.74,35.46 L179.57,35.28 L180.41,35.12 L181.25,34.98 L182.09,34.86 L182.93,34.76 L183.77,34.68 L184.62,34.61 L185.47,34.57 L186.32,34.54 L187.17,34.54 L188.02,34.55 L188.87,34.58 L189.72,34.63 L190.57,34.69 L191.42,34.77 L192.28,34.86 L193.13,34.96 L193.98,35.07 L194.83,35.20 L195.69,35.33 L196.54,35.47 L197.39,35.62 L198.24,35.78 L199.09,35.94 L199.94,36.11 L200.79,36.28 L201.64,36.45 L202.48,36.62 L203.33,36.80 L204.17,36.97 L205.01,37.15 L205.85,37.32 L206.69,37.50 L207.53,37.67 L208.37,37.85 L209.20,38.02 L210.04,38.20 L210.88,38.38 L211.71,38.55 L212.54,38.73 L213.38,38.90 L214.21,39.08 L215.04,39.25 L215.88,39.43 L216.71,39.60 L217.54,39.77 L218.37,39.95 L219.20,40.12 L220.04,40.29 L220.87,40.46 L221.70,40.63 L222.53,40.81 L223.37,40.97 L224.20,41.14 L225.04,41.31 L225.87,41.48 L226.71,41.64 L227.54,41.81 L228.38,41.97 L229.22,42.13 L230.06,42.30 L230.90,42.46 L231.74,42.61 L232.58,42.77 L233.42,42.93 L234.26,43.08 L235.10,43.24 L235.94,43.39 L236.78,43.54 L237.63,43.69 L238.47,43.83 L239.31,43.98 L240.16,44.12 L241.00,44.26 L241.85,44.40 L242.69,44.54 L243.54,44.68 L244.39,44.81 L245.23,44.94 L246.08,45.07 L246.93,45.20 L247.78,45.32 L248.62,45.44 L249.47,45.56 L250.32,45.68 L251.17,45.80 L252.02,45.91 L252.87,46.02 L253.72,46.13 L254.57,46.23 L255.42,46.33 L256.27,46.43 L257.12,46.53 L257.98,46.62 L258.83,46.71 L259.68,46.80 L260.53,46.88 L261.38,46.96 L262.24,47.04 L263.09,47.12 L263.94,47.19 L264.79,47.26 L265.65,47.32 L266.50,47.38 L267.35,47.44 L268.21,47.49 L269.06,47.54 L269.91,47.59 L270.77,47.64 L271.62,47.68 L272.48,47.72 L273.33,47.75 L274.18,47.78 L275.04,47.81 L275.89,47.84 L276.75,47.86 L277.60,47.88 L278.45,47.90 L279.31,47.92 L280.16,47.93 L281.02,47.95 L281.87,47.96 L282.73,47.97 L283.58,47.97 L284.44,47.98 L285.29,47.98 L286.15,47.98 L287.00,47.98 L287.86,47.98 L288.71,47.98 L289.57,47.98 L290.42,47.97 L291.28,47.97 L292.13,47.96 L292.99,47.95 L293.84,47.95 L294.70,47.94 L295.55,47.93 L296.41,47.92 L297.26,47.91 L298.12,47.90 L298.97,47.89 L299.83,47.88 L300.68,47.87 L301.54,47.86 L302.39,47.85 L303.25,47.84 L304.10,47.83 L304.96,47.82 L305.81,47.81 L306.67,47.79 L307.52,47.78 L308.38,47.77 L309.23,47.76 L310.09,47.75 L310.94,47.73 L311.80,47.72 L312.65,47.71 L313.51,47.69 L314.36,47.68 L315.22,47.67 L316.07,47.65 L316.93,47.64 L317.78,47.63 L318.64,47.61 L319.49,47.60 L320.35,47.58 L321.20,47.57 L322.06,47.56 L322.91,47.54 L323.77,47.53 L324.62,47.51 L325.48,47.50 L326.33,47.48 L327.19,47.47 L328.04,47.45 L328.90,47.44 L329.75,47.42 L330.61,47.41 L331.46,47.39 L332.32,47.38 L333.17,47.36 L334.03,47.35 L334.88,47.33 L335.74,47.32 L336.59,47.30 L337.45,47.29 L338.30,47.27 L339.16,47.25 L340.01,47.24 L340.87,47.22 L341.72,47.21 L342.58,47.19 L343.43,47.18 L344.29,47.16 L345.15,47.15 L346.00,47.13 L346.86,47.12 L347.71,47.10 L348.57,47.09 L349.42,47.07 L350.28,47.06 L351.13,47.04 L351.99,47.03 L352.84,47.01 L353.70,47.00 L354.55,46.98 L355.41,46.97 L356.26,46.95 L357.12,46.94 L357.97,46.92 L358.83,46.91 L359.68,46.89 L360.54,46.88 L361.39,46.87 L362.25,46.85 L363.10,46.84 L363.96,46.82 L364.81,46.81 L365.67,46.80 L366.52,46.78 L367.38,46.77 L368.23,46.76 L369.09,46.75 L369.94,46.73 L370.80,46.72 L371.65,46.71 L372.51,46.70 L373.36,46.68 L374.22,46.67 L375.07,46.66 L375.93,46.65 L376.78,46.64 L377.64,46.63 L378.49,46.62 L379.35,46.61 L380.21,46.60 L381.06,46.59 L381.92,46.58 L382.77,46.57 L383.63,46.56 L384.48,46.55 L385.34,46.54 L386.19,46.53 L387.05,46.52 L387.90,46.51 L388.76,46.51 L389.61,46.50 L390.47,46.49 L391.32,46.49 L392.18,46.48 L393.03,46.47 L393.89,46.47 L394.74,46.46 L395.60,46.45 L396.45,46.45 L397.31,46.44 L398.16,46.44 L399.02,46.44 L399.87,46.43 L400.73,46.43 L401.58,46.43 L402.44,46.42 L403.29,46.42 L404.15,46.42 L405.01,46.42 L405.86,46.41 L406.72,46.41 L407.57,46.41 L408.43,46.41 L409.28,46.41 L410.14,46.41 L410.99,46.41 L411.85,46.41 L412.70,46.41 L413.56,46.41 L414.41,46.41 L415.27,46.41 L416.12,46.41 L416.98,46.41 L417.83,46.41 L418.69,46.41 L419.54,46.42 L420.40,46.42 L421.25,46.42 L422.11,46.42 L422.96,46.42 L423.82,46.42 L424.67,46.42 L425.53,46.43 L426.39,46.43 L427.24,46.43 L428.10,46.43 L428.95,46.43 L429.81,46.43 L430.66,46.44 L431.52,46.44 L432.37,46.44 L433.23,46.44 L434.08,46.44 L434.94,46.44 L435.79,46.44 L436.65,46.45 L437.50,46.45 L438.36,46.45 L439.21,46.45 L440.07,46.45 L440.92,46.45 L441.78,46.45 L442.63,46.45 L443.49,46.45 L444.34,46.45 L445.20,46.45 L446.05,46.45 L446.91,46.45 L447.77,46.45 L448.62,46.45 L449.48,46.44 L450.33,46.44 L451.19,46.44 L452.04,46.44 L452.90,46.43 L453.75,46.43 L454.61,46.43 L455.46,46.42 L456.32,46.42 L457.17,46.42 L458.03,46.41 L458.88,46.40 L459.74,46.40 L460.59,46.39 L461.45,46.39 L462.30,46.38 L463.16,46.37 L464.01,46.36 L464.87,46.36 L465.72,46.35 L466.58,46.34 L467.43,46.33 L468.29,46.32 L469.14,46.31 L470.00,46.30" stroke="#77AC30" clip-path="url(#ct)"/>
<path d="M55.90,209.50 L79.50,209.59 L80.33,209.34 L81.13,209.06 L81.91,208.73 L82.67,208.37 L83.40,207.97 L84.11,207.54 L84.80,207.08 L85.47,206.59 L86.12,206.08 L86.75,205.55 L87.37,205.00 L87.97,204.43 L88.56,203.84 L89.14,203.23 L89.71,202.62 L90.27,201.99 L90.82,201.35 L91.36,200.71 L91.90,200.06 L92.43,199.41 L92.97,198.76 L93.50,198.11 L94.02,197.45 L94.55,196.79 L95.07,196.14 L95.58,195.47 L96.10,194.81 L96.61,194.15 L97.13,193.48 L97.64,192.82 L98.14,192.15 L98.65,191.48 L99.15,190.81 L99.66,190.14 L100.16,189.47 L100.66,188.79 L101.15,188.12 L101.65,187.44 L102.14,186.77 L102.64,186.09 L103.13,185.41 L103.62,184.73 L104.12,184.05 L104.61,183.37 L105.10,182.69 L105.59,182.01 L106.08,181.33 L106.57,180.65 L107.06,179.97 L107.55,179.28 L108.04,178.60 L108.52,177.92 L109.01,177.24 L109.50,176.55 L109.99,175.87 L110.48,175.19 L110.97,174.51 L111.46,173.82 L111.96,173.14 L112.45,172.46 L112.94,171.78 L113.43,171.10 L113.93,170.42 L114.42,169.74 L114.92,169.06 L115.42,168.38 L115.91,167.71 L116.41,167.03 L116.91,166.35 L117.41,165.68 L117.92,165.01 L118.42,164.33 L118.93,163.66 L119.43,162.99 L119.94,162.33 L120.45,161.66 L120.97,160.99 L121.48,160.33 L122.00,159.67 L122.51,159.01 L123.03,158.35 L123.56,157.69 L124.08,157.04 L124.61,156.38 L125.13,155.73 L125.67,155.08 L126.20,154.43 L126.74,153.79 L127.27,153.14 L127.81,152.50 L128.36,151.87 L128.91,151.23 L129.45,150.60 L130.01,149.96 L130.56,149.33 L131.12,148.71 L131.68,148.08 L132.24,147.46 L132.80,146.84 L133.37,146.22 L133.93,145.60 L134.50,144.98 L135.08,144.37 L135.65,143.76 L136.23,143.15 L136.80,142.54 L137.38,141.93 L137.96,141.33 L138.55,140.72 L139.13,140.12 L139.72,139.52 L140.31,138.92 L140.89,138.32 L141.48,137.72 L142.08,137.13 L142.67,136.53 L143.26,135.94 L143.86,135.34 L144.45,134.75 L145.05,134.16 L145.65,133.57 L146.25,132.98 L146.85,132.39 L147.45,131.80 L148.05,131.22 L148.65,130.63 L149.26,130.05 L149.86,129.46 L150.46,128.88 L151.07,128.29 L151.67,127.71 L152.28,127.12 L152.88,126.54 L153.49,125.96 L154.09,125.38 L154.70,124.79 L155.30,124.21 L155.91,123.63 L156.51,123.05 L157.12,122.47 L157.73,121.89 L158.33,121.31 L158.94,120.73 L159.55,120.15 L160.16,119.57 L160.77,119.00 L161.38,118.42 L161.99,117.85 L162.61,117.28 L163.22,116.71 L163.84,116.14 L164.46,115.57 L165.08,115.01 L165.70,114.45 L166.32,113.89 L166.95,113.33 L167.57,112.77 L168.20,112.22 L168.83,111.67 L169.47,111.12 L170.10,110.57 L170.74,110.03 L171.38,109.49 L172.03,108.96 L172.67,108.42 L173.32,107.89 L173.97,107.36 L174.63,106.84 L175.28,106.31 L175.94,105.79 L176.60,105.28 L177.26,104.76 L177.93,104.25 L178.60,103.74 L179.26,103.23 L179.93,102.73 L180.61,102.23 L181.28,101.73 L181.96,101.23 L182.64,100.73 L183.32,100.24 L184.00,99.75 L184.68,99.26 L185.37,98.77 L186.05,98.28 L186.74,97.80 L187.43,97.32 L188.12,96.84 L188.81,96.36 L189.51,95.88 L190.20,95.41 L190.90,94.94 L191.59,94.46 L192.29,93.99 L192.99,93.52 L193.69,93.06 L194.39,92.59 L195.09,92.13 L195.80,91.67 L196.50,91.21 L197.21,90.75 L197.92,90.29 L198.62,89.84 L199.33,89.39 L200.05,88.94 L200.76,88.50 L201.47,88.05 L202.19,87.61 L202.91,87.18 L203.63,86.74 L204.35,86.31 L205.07,85.88 L205.79,85.45 L206.52,85.03 L207.25,84.61 L207.98,84.19 L208.71,83.78 L209.44,83.37 L210.18,82.96 L210.91,82.56 L211.65,82.16 L212.39,81.77 L213.13,81.38 L213.88,80.99 L214.62,80.61 L215.37,80.23 L216.12,79.85 L216.87,79.48 L217.63,79.12 L218.38,78.75 L219.14,78.40 L219.90,78.04 L220.66,77.70 L221.43,77.35 L222.20,77.01 L222.97,76.68 L223.74,76.35 L224.51,76.03 L225.29,75.71 L226.07,75.40 L226.85,75.09 L227.63,74.78 L228.42,74.49 L229.21,74.20 L230.00,73.91 L230.79,73.63 L231.59,73.36 L232.39,73.09 L233.19,72.83 L233.99,72.58 L234.80,72.33 L235.60,72.10 L236.41,71.87 L237.22,71.64 L238.04,71.43 L238.85,71.23 L239.67,71.03 L240.49,70.84 L241.31,70.67 L242.13,70.50 L242.95,70.34 L243.78,70.20 L244.60,70.06 L245.43,69.93 L246.26,69.82 L247.09,69.71 L247.92,69.62 L248.76,69.54 L249.59,69.47 L250.43,69.41 L251.27,69.37 L252.10,69.33 L252.94,69.31 L253.78,69.29 L254.62,69.28 L255.46,69.28 L256.31,69.28 L257.15,69.28 L257.99,69.28 L258.83,69.28 L259.68,69.28 L260.52,69.28 L261.36,69.28 L262.21,69.28 L263.05,69.28 L263.89,69.28 L264.74,69.28 L265.58,69.28 L266.42,69.28 L267.26,69.28 L268.10,69.28 L268.94,69.28 L269.78,69.28 L270.62,69.28 L271.46,69.28 L272.30,69.28 L273.14,69.28 L273.98,69.28 L274.81,69.28 L275.65,69.28 L276.49,69.28 L277.33,69.28 L278.17,69.28 L279.00,69.28 L279.84,69.28 L280.68,69.28 L281.52,69.28 L282.35,69.28 L283.19,69.28 L284.03,69.28 L284.87,69.28 L285.70,69.27 L286.54,69.25 L287.38,69.24 L288.22,69.23 L289.06,69.22 L289.90,69.22 L290.74,69.21 L291.58,69.21 L292.42,69.21 L293.26,69.21 L294.10,69.21 L294.94,69.21 L295.78,69.21 L296.62,69.21 L297.47,69.21 L298.31,69.21 L299.16,69.21 L300.00,69.21 L672.00,69.40" stroke="#4DBEEE" clip-path="url(#ct)"/>
<path d="M55.90,209.50 L80.10,209.74 L80.83,209.48 L81.54,209.20 L82.25,208.91 L82.94,208.59 L83.62,208.26 L84.30,207.91 L84.96,207.54 L85.62,207.16 L86.27,206.76 L86.91,206.35 L87.54,205.93 L88.17,205.50 L88.79,205.06 L89.41,204.61 L90.02,204.14 L90.63,203.68 L91.23,203.20 L91.83,202.72 L92.42,202.24 L93.01,201.75 L93.61,201.25 L94.19,200.76 L94.78,200.27 L95.37,199.77 L95.95,199.27 L96.54,198.77 L97.12,198.28 L97.70,197.77 L98.28,197.27 L98.86,196.77 L99.44,196.27 L100.02,195.76 L100.60,195.26 L101.17,194.75 L101.75,194.24 L102.32,193.74 L102.90,193.23 L103.47,192.72 L104.04,192.21 L104.62,191.70 L105.19,191.19 L105.76,190.68 L106.33,190.17 L106.90,189.65 L107.47,189.14 L108.04,188.63 L108.61,188.12 L109.18,187.60 L109.75,187.09 L110.32,186.58 L110.89,186.06 L111.46,185.55 L112.03,185.03 L112.60,184.52 L113.16,184.01 L113.73,183.49 L114.30,182.98 L114.87,182.47 L115.44,181.95 L116.01,181.44 L116.59,180.93 L117.16,180.42 L117.73,179.90 L118.30,179.39 L118.87,178.88 L119.45,178.37 L120.02,177.86 L120.60,177.35 L121.17,176.85 L121.75,176.34 L122.33,175.83 L122.90,175.32 L123.48,174.82 L124.06,174.31 L124.64,173.81 L125.22,173.31 L125.80,172.80 L126.39,172.30 L126.97,171.80 L127.55,171.30 L128.14,170.80 L128.72,170.30 L129.31,169.80 L129.90,169.31 L130.48,168.81 L131.07,168.31 L131.66,167.82 L132.25,167.33 L132.84,166.83 L133.43,166.34 L134.03,165.85 L134.62,165.36 L135.21,164.87 L135.81,164.38 L136.40,163.90 L137.00,163.41 L137.60,162.93 L138.19,162.44 L138.79,161.96 L139.39,161.48 L139.99,161.00 L140.60,160.52 L141.20,160.04 L141.80,159.56 L142.40,159.09 L143.01,158.61 L143.62,158.14 L144.22,157.67 L144.83,157.20 L145.44,156.73 L146.05,156.26 L146.66,155.79 L147.27,155.32 L147.88,154.86 L148.49,154.40 L149.11,153.93 L149.72,153.47 L150.34,153.01 L150.95,152.56 L151.57,152.10 L152.19,151.64 L152.81,151.19 L153.43,150.74 L154.05,150.29 L154.67,149.84 L155.30,149.39 L155.92,148.94 L156.54,148.49 L157.17,148.05 L157.80,147.61 L158.42,147.17 L159.05,146.73 L159.68,146.29 L160.31,145.85 L160.95,145.42 L161.58,144.99 L162.21,144.56 L162.85,144.13 L163.48,143.70 L164.12,143.27 L164.76,142.85 L165.40,142.42 L166.04,142.00 L166.68,141.58 L167.32,141.17 L167.96,140.75 L168.61,140.34 L169.25,139.92 L169.90,139.51 L170.54,139.10 L171.19,138.70 L171.84,138.29 L172.49,137.89 L173.14,137.49 L173.79,137.09 L174.45,136.69 L175.10,136.29 L175.76,135.90 L176.41,135.51 L177.07,135.12 L177.73,134.73 L178.39,134.34 L179.05,133.95 L179.71,133.57 L180.37,133.19 L181.04,132.81 L181.70,132.43 L182.37,132.05 L183.03,131.67 L183.70,131.30 L184.37,130.93 L185.04,130.55 L185.71,130.18 L186.38,129.81 L187.05,129.44 L187.72,129.08 L188.39,128.71 L189.07,128.35 L189.74,127.98 L190.41,127.62 L191.09,127.26 L191.77,126.90 L192.44,126.53 L193.12,126.18 L193.80,125.82 L194.48,125.46 L195.16,125.10 L195.84,124.74 L196.52,124.39 L197.20,124.03 L197.88,123.68 L198.56,123.32 L199.24,122.97 L199.93,122.62 L200.61,122.26 L201.29,121.91 L201.98,121.56 L202.66,121.21 L203.35,120.86 L204.03,120.50 L204.72,120.15 L205.40,119.80 L206.09,119.45 L206.78,119.10 L207.47,118.75 L208.15,118.40 L208.84,118.05 L209.53,117.70 L210.22,117.35 L210.91,116.99 L211.59,116.64 L212.28,116.29 L212.97,115.94 L213.66,115.59 L214.35,115.23 L215.04,114.88 L215.73,114.53 L216.42,114.18 L217.11,113.83 L217.80,113.48 L218.50,113.13 L219.19,112.79 L219.89,112.45 L220.58,112.11 L221.28,111.78 L221.98,111.46 L222.67,111.13 L223.37,110.82 L224.08,110.50 L224.78,110.20 L225.49,109.90 L226.19,109.61 L226.90,109.33 L227.61,109.05 L228.33,108.78 L229.04,108.52 L229.76,108.28 L230.48,108.04 L231.21,107.81 L231.93,107.59 L232.66,107.38 L233.39,107.19 L234.13,107.00 L234.86,106.83 L235.60,106.67 L236.35,106.52 L237.09,106.38 L237.84,106.24 L238.59,106.12 L239.34,106.01 L240.09,105.90 L240.85,105.81 L241.60,105.72 L242.36,105.64 L243.12,105.57 L243.88,105.50 L244.65,105.44 L245.41,105.39 L246.18,105.34 L246.95,105.30 L247.71,105.27 L248.48,105.24 L249.25,105.22 L250.03,105.20 L250.80,105.18 L251.57,105.17 L252.34,105.16 L253.12,105.16 L253.89,105.15 L254.66,105.15 L255.44,105.15 L256.21,105.15 L256.99,105.15 L257.76,105.15 L258.53,105.15 L259.31,105.15 L260.08,105.15 L260.85,105.15 L261.62,105.15 L262.39,105.15 L263.16,105.15 L263.94,105.15 L264.71,105.15 L265.47,105.15 L266.24,105.15 L267.01,105.15 L267.78,105.15 L268.55,105.15 L269.32,105.15 L270.08,105.15 L270.85,105.15 L271.62,105.15 L272.39,105.15 L273.15,105.15 L273.92,105.15 L274.68,105.15 L275.45,105.15 L276.22,105.15 L276.98,105.15 L277.75,105.15 L278.51,105.15 L279.28,105.15 L280.05,105.15 L280.81,105.15 L281.58,105.15 L282.34,105.15 L283.11,105.15 L283.87,105.15 L284.64,105.15 L285.41,105.15 L286.17,105.15 L286.94,105.15 L287.70,105.15 L288.47,105.15 L289.24,105.15 L290.00,105.15 L290.77,105.15 L291.54,105.15 L292.31,105.15 L293.07,105.15 L293.84,105.15 L294.61,105.15 L295.38,105.15 L296.15,105.15 L296.92,105.15 L297.69,105.15 L298.46,105.15 L299.23,105.15 L300.00,105.15 L672.00,105.40" stroke="#A2142F" clip-path="url(#ct)"/>
<path d="M55.90,209.50 L80.97,209.49 L81.76,209.49 L82.53,209.49 L83.27,209.42 L84.00,209.29 L84.70,209.12 L85.38,208.91 L86.04,208.66 L86.70,208.38 L87.33,208.06 L87.96,207.73 L88.58,207.37 L89.18,206.99 L89.79,206.60 L90.38,206.19 L90.98,205.78 L91.57,205.37 L92.16,204.95 L92.76,204.54 L93.36,204.14 L93.96,203.73 L94.56,203.34 L95.17,202.95 L95.78,202.56 L96.39,202.18 L97.01,201.80 L97.62,201.43 L98.24,201.06 L98.86,200.69 L99.48,200.32 L100.10,199.96 L100.72,199.60 L101.35,199.24 L101.97,198.89 L102.60,198.53 L103.23,198.18 L103.86,197.83 L104.49,197.47 L105.11,197.12 L105.74,196.77 L106.37,196.42 L107.00,196.07 L107.63,195.72 L108.26,195.36 L108.89,195.01 L109.52,194.65 L110.14,194.30 L110.77,193.94 L111.40,193.58 L112.02,193.21 L112.64,192.85 L113.27,192.48 L113.89,192.11 L114.51,191.74 L115.13,191.36 L115.74,190.99 L116.36,190.61 L116.98,190.23 L117.59,189.85 L118.21,189.46 L118.83,189.08 L119.44,188.70 L120.05,188.31 L120.67,187.92 L121.28,187.54 L121.90,187.15 L122.51,186.76 L123.12,186.38 L123.74,185.99 L124.35,185.60 L124.96,185.22 L125.58,184.83 L126.19,184.44 L126.81,184.06 L127.42,183.67 L128.04,183.29 L128.66,182.91 L129.27,182.53 L129.89,182.15 L130.51,181.77 L131.13,181.40 L131.75,181.03 L132.37,180.66 L132.99,180.29 L133.62,179.92 L134.24,179.56 L134.87,179.19 L135.50,178.84 L136.13,178.48 L136.76,178.13 L137.39,177.78 L138.02,177.43 L138.66,177.09 L139.29,176.75 L139.93,176.42 L140.57,176.09 L141.22,175.76 L141.86,175.44 L142.51,175.12 L143.16,174.80 L143.81,174.49 L144.46,174.18 L145.11,173.88 L145.76,173.57 L146.42,173.27 L147.08,172.97 L147.73,172.68 L148.39,172.39 L149.05,172.09 L149.71,171.81 L150.38,171.52 L151.04,171.23 L151.70,170.95 L152.37,170.67 L153.03,170.39 L153.70,170.11 L154.36,169.83 L155.03,169.55 L155.70,169.28 L156.37,169.00 L157.03,168.72 L157.70,168.45 L158.37,168.17 L159.04,167.90 L159.71,167.63 L160.38,167.35 L161.05,167.08 L161.71,166.80 L162.38,166.52 L163.05,166.25 L163.72,165.97 L164.39,165.70 L165.06,165.42 L165.73,165.14 L166.40,164.87 L167.06,164.59 L167.73,164.32 L168.40,164.04 L169.07,163.76 L169.74,163.49 L170.41,163.21 L171.08,162.94 L171.75,162.66 L172.42,162.38 L173.09,162.11 L173.76,161.83 L174.42,161.56 L175.09,161.28 L175.76,161.01 L176.43,160.73 L177.10,160.46 L177.77,160.18 L178.44,159.91 L179.11,159.63 L179.78,159.36 L180.45,159.09 L181.13,158.81 L181.80,158.54 L182.47,158.27 L183.14,158.00 L183.81,157.73 L184.48,157.45 L185.15,157.18 L185.82,156.91 L186.50,156.64 L187.17,156.38 L187.84,156.11 L188.51,155.84 L189.19,155.57 L189.86,155.30 L190.53,155.04 L191.20,154.77 L191.88,154.51 L192.55,154.24 L193.23,153.98 L193.90,153.72 L194.57,153.45 L195.25,153.19 L195.92,152.93 L196.60,152.67 L197.28,152.41 L197.95,152.15 L198.63,151.90 L199.30,151.64 L199.98,151.38 L200.66,151.13 L201.33,150.87 L202.01,150.62 L202.69,150.37 L203.37,150.12 L204.05,149.87 L204.73,149.62 L205.40,149.37 L206.08,149.12 L206.76,148.87 L207.44,148.63 L208.12,148.38 L208.80,148.14 L209.49,147.90 L210.17,147.66 L210.85,147.42 L211.53,147.18 L212.21,146.94 L212.90,146.71 L213.58,146.47 L214.26,146.24 L214.95,146.01 L215.63,145.77 L216.32,145.54 L217.00,145.32 L217.69,145.09 L218.38,144.86 L219.06,144.64 L219.75,144.42 L220.44,144.19 L221.13,143.97 L221.81,143.75 L222.50,143.54 L223.19,143.32 L223.88,143.11 L224.57,142.89 L225.26,142.68 L225.96,142.47 L226.65,142.27 L227.34,142.07 L228.04,141.87 L228.73,141.69 L229.43,141.51 L230.13,141.35 L230.83,141.20 L231.54,141.06 L232.25,140.94 L232.96,140.83 L233.67,140.75 L234.39,140.67 L235.11,140.62 L235.83,140.57 L236.56,140.54 L237.28,140.51 L238.01,140.50 L238.74,140.49 L239.46,140.48 L240.19,140.48 L240.92,140.48 L241.65,140.48 L242.37,140.48 L243.10,140.48 L243.83,140.48 L244.55,140.48 L245.28,140.48 L246.00,140.48 L246.73,140.48 L247.46,140.48 L248.18,140.48 L248.91,140.48 L249.63,140.48 L250.36,140.48 L251.08,140.48 L251.80,140.48 L252.53,140.48 L253.25,140.48 L253.98,140.48 L254.70,140.48 L255.42,140.48 L256.15,140.48 L256.87,140.48 L257.59,140.48 L258.31,140.48 L259.04,140.48 L259.76,140.48 L260.48,140.48 L261.20,140.48 L261.93,140.48 L262.65,140.48 L263.37,140.48 L264.09,140.48 L264.81,140.48 L265.53,140.48 L266.25,140.48 L266.97,140.48 L267.69,140.48 L268.41,140.48 L269.14,140.48 L269.86,140.48 L270.58,140.48 L271.30,140.48 L272.02,140.48 L272.74,140.48 L273.47,140.48 L274.19,140.48 L274.91,140.48 L275.64,140.48 L276.36,140.48 L277.09,140.48 L277.81,140.48 L278.54,140.48 L279.27,140.48 L280.00,140.48 L672.00,141.00" stroke="#0072BD" clip-path="url(#ct)"/>

<path d="M55.82,477.00 L56.00,476.13 L56.18,475.25 L56.36,474.38 L56.54,473.50 L56.72,472.63 L56.91,471.75 L57.09,470.88 L57.28,470.01 L57.47,469.13 L57.65,468.26 L57.84,467.39 L58.03,466.52 L58.23,465.64 L58.42,464.77 L58.61,463.90 L58.81,463.03 L59.00,462.16 L59.20,461.28 L59.40,460.41 L59.60,459.54 L59.80,458.67 L60.00,457.80 L60.20,456.93 L60.41,456.06 L60.61,455.19 L60.82,454.32 L61.02,453.45 L61.23,452.59 L61.44,451.72 L61.65,450.85 L61.86,449.98 L62.07,449.11 L62.28,448.25 L62.50,447.38 L62.71,446.51 L62.92,445.64 L63.14,444.78 L63.36,443.91 L63.58,443.04 L63.79,442.18 L64.01,441.31 L64.23,440.45 L64.46,439.58 L64.68,438.71 L64.90,437.85 L65.13,436.98 L65.35,436.12 L65.58,435.26 L65.80,434.39 L66.03,433.53 L66.26,432.66 L66.49,431.80 L66.72,430.94 L66.95,430.07 L67.18,429.21 L67.41,428.35 L67.64,427.48 L67.88,426.62 L68.11,425.76 L68.35,424.90 L68.58,424.04 L68.82,423.17 L69.06,422.31 L69.29,421.45 L69.53,420.59 L69.77,419.73 L70.01,418.87 L70.25,418.01 L70.50,417.15 L70.74,416.29 L70.98,415.43 L71.22,414.57 L71.47,413.71 L71.71,412.85 L71.96,411.99 L72.20,411.13 L72.45,410.27 L72.70,409.41 L72.95,408.55 L73.19,407.69 L73.44,406.83 L73.69,405.97 L73.94,405.12 L74.19,404.26 L74.45,403.40 L74.70,402.54 L74.95,401.69 L75.20,400.83 L75.46,399.97 L75.71,399.11 L75.96,398.26 L76.22,397.40 L76.48,396.54 L76.73,395.69 L76.99,394.83 L77.24,393.97 L77.50,393.12 L77.76,392.26 L78.02,391.41 L78.28,390.55 L78.54,389.69 L78.80,388.84 L79.06,387.98 L79.32,387.13 L79.58,386.27 L79.84,385.42 L80.10,384.56 L80.36,383.71 L80.62,382.85 L80.89,382.00 L81.15,381.15 L81.41,380.29 L81.68,379.44 L81.94,378.58 L82.20,377.73 L82.47,376.88 L82.73,376.02 L83.00,375.17 L83.26,374.32 L83.53,373.46 L83.80,372.61 L84.06,371.76 L84.33,370.90 L84.60,370.05 L84.86,369.20 L85.13,368.35 L85.40,367.49 L85.67,366.64 L85.94,365.79 L86.20,364.94 L86.47,364.09 L86.74,363.23 L87.01,362.38 L87.28,361.53 L87.55,360.68 L87.82,359.83 L88.09,358.97 L88.36,358.12 L88.63,357.27 L88.90,356.42 L89.17,355.57 L89.44,354.72 L89.71,353.87 L89.99,353.02 L90.26,352.17 L90.54,351.32 L90.82,350.47 L91.09,349.63 L91.37,348.78 L91.66,347.93 L91.94,347.09 L92.22,346.24 L92.51,345.40 L92.80,344.55 L93.09,343.71 L93.39,342.87 L93.68,342.02 L93.98,341.18 L94.28,340.34 L94.58,339.51 L94.89,338.67 L95.20,337.83 L95.51,336.99 L95.83,336.16 L96.14,335.33 L96.47,334.49 L96.79,333.66 L97.12,332.83 L97.45,332.01 L97.79,331.18 L98.13,330.35 L98.47,329.53 L98.82,328.71 L99.17,327.89 L99.52,327.07 L99.89,326.25 L100.25,325.43 L100.62,324.62 L100.99,323.80 L101.37,322.99 L101.76,322.18 L102.15,321.37 L102.54,320.57 L102.94,319.76 L103.34,318.96 L103.75,318.16 L104.17,317.36 L104.59,316.57 L105.02,315.77 L105.45,314.98 L105.89,314.19 L106.33,313.40 L106.79,312.62 L107.24,311.83 L107.71,311.05 L108.18,310.28 L108.65,309.50 L109.14,308.73 L109.63,307.95 L110.13,307.19 L110.63,306.42 L111.15,305.66 L111.67,304.91 L112.20,304.16 L112.74,303.42 L113.29,302.70 L113.85,301.98 L114.42,301.28 L115.00,300.59 L115.60,299.91 L116.20,299.25 L116.82,298.61 L117.45,297.99 L118.10,297.38 L118.76,296.80 L119.44,296.24 L120.13,295.70 L120.84,295.19 L121.56,294.70 L122.29,294.24 L123.04,293.81 L123.81,293.40 L124.58,293.02 L125.37,292.67 L126.16,292.34 L126.97,292.05 L127.78,291.78 L128.60,291.54 L129.43,291.33 L130.27,291.15 L131.11,291.00 L131.95,290.89 L132.80,290.80 L133.65,290.75 L134.50,290.73 L135.35,290.74 L136.21,290.78 L137.07,290.85 L137.92,290.94 L138.78,291.07 L139.64,291.21 L140.50,291.39 L141.36,291.59 L142.21,291.81 L143.07,292.05 L143.93,292.31 L144.78,292.60 L145.64,292.90 L146.49,293.22 L147.34,293.56 L148.18,293.92 L149.03,294.29 L149.87,294.67 L150.71,295.07 L151.54,295.48 L152.37,295.90 L153.20,296.33 L154.02,296.78 L154.84,297.22 L155.65,297.68 L156.46,298.15 L157.26,298.62 L158.06,299.09 L158.85,299.57 L159.63,300.05 L160.41,300.53 L161.18,301.01 L161.95,301.50 L162.71,301.98 L163.46,302.46 L164.21,302.95 L164.96,303.43 L165.70,303.92 L166.44,304.40 L167.18,304.89 L167.91,305.37 L168.65,305.85 L169.38,306.34 L170.12,306.82 L170.85,307.30 L171.59,307.78 L172.32,308.25 L173.06,308.73 L173.81,309.20 L174.55,309.67 L175.30,310.14 L176.05,310.61 L176.81,311.07 L177.57,311.53 L178.34,311.99 L179.11,312.45 L179.88,312.90 L180.65,313.35 L181.43,313.79 L182.22,314.24 L183.00,314.67 L183.80,315.11 L184.59,315.53 L185.39,315.96 L186.19,316.38 L186.99,316.79 L187.80,317.20 L188.61,317.60 L189.42,318.00 L190.23,318.40 L191.05,318.78 L191.87,319.16 L192.70,319.54 L193.52,319.90 L194.35,320.26 L195.19,320.62 L196.02,320.97 L196.86,321.31 L197.70,321.64 L198.54,321.96 L199.38,322.28 L200.23,322.59 L201.07,322.89 L201.92,323.18 L202.78,323.46 L203.63,323.74 L204.48,324.01 L205.34,324.26 L206.20,324.51 L207.06,324.75 L207.92,324.98 L208.79,325.20 L209.65,325.40 L210.52,325.60 L211.39,325.79 L212.26,325.97 L213.13,326.13 L214.00,326.29 L214.87,326.43 L215.75,326.57 L216.62,326.69 L217.50,326.80 L218.37,326.89 L219.25,326.98 L220.13,327.05 L221.01,327.12 L221.89,327.17 L222.77,327.21 L223.65,327.24 L224.53,327.27 L225.41,327.28 L226.29,327.28 L227.18,327.28 L228.06,327.26 L228.95,327.24 L229.83,327.21 L230.72,327.17 L231.60,327.13 L232.49,327.07 L233.38,327.01 L234.27,326.95 L235.15,326.87 L236.04,326.80 L236.93,326.71 L237.82,326.62 L238.71,326.53 L239.60,326.43 L240.49,326.33 L241.38,326.22 L242.27,326.11 L243.16,325.99 L244.06,325.88 L244.95,325.76 L245.84,325.63 L246.73,325.51 L247.62,325.38 L248.52,325.25 L249.41,325.12 L250.30,324.99 L251.20,324.86 L252.09,324.73 L252.98,324.59 L253.88,324.46 L254.77,324.33 L255.66,324.20 L256.55,324.07 L257.45,323.94 L258.34,323.81 L259.23,323.69 L260.13,323.56 L261.02,323.44 L261.91,323.33 L262.80,323.21 L263.70,323.10 L264.59,322.99 L265.48,322.89 L266.37,322.79 L267.26,322.69 L268.16,322.59 L269.05,322.50 L269.94,322.41 L270.83,322.32 L271.72,322.24 L272.61,322.15 L273.50,322.07 L274.39,322.00 L275.28,321.92 L276.17,321.85 L277.06,321.78 L277.95,321.71 L278.84,321.65 L279.74,321.58 L280.63,321.52 L281.52,321.46 L282.41,321.41 L283.30,321.35 L284.19,321.30 L285.08,321.25 L285.97,321.20 L286.86,321.15 L287.75,321.11 L288.64,321.06 L289.53,321.02 L290.42,320.98 L291.30,320.94 L292.19,320.91 L293.08,320.87 L293.97,320.84 L294.86,320.81 L295.75,320.77 L296.64,320.74 L297.53,320.72 L298.42,320.69 L299.31,320.66 L300.20,320.64 L301.09,320.61 L301.98,320.59 L302.88,320.57 L303.77,320.55 L304.66,320.53 L305.55,320.51 L306.44,320.49 L307.33,320.47 L308.22,320.45 L309.11,320.44 L310.00,320.42 L310.89,320.41 L311.78,320.39 L312.67,320.38 L313.56,320.36 L314.46,320.35 L315.35,320.34 L316.24,320.33 L317.13,320.31 L318.02,320.30 L318.91,320.29 L319.81,320.28 L320.70,320.27 L321.59,320.27 L322.48,320.26 L323.38,320.25 L324.27,320.24 L325.16,320.24 L326.05,320.23 L326.95,320.22 L327.84,320.22 L328.73,320.21 L329.62,320.21 L330.52,320.21 L331.41,320.20 L332.30,320.20 L333.20,320.20 L334.09,320.20 L334.98,320.20 L335.87,320.19 L336.77,320.19 L337.66,320.19 L338.56,320.19 L339.45,320.19 L340.34,320.19 L341.24,320.20 L342.13,320.20 L343.02,320.20 L343.92,320.20 L344.81,320.20 L345.71,320.21 L346.60,320.21 L347.49,320.22 L348.39,320.22 L349.28,320.22 L350.18,320.23 L351.07,320.23 L351.96,320.24 L352.86,320.24 L353.75,320.25 L354.65,320.26 L355.54,320.26 L356.44,320.27 L357.33,320.28 L358.23,320.28 L359.12,320.29 L360.01,320.30 L360.91,320.31 L361.80,320.32 L362.70,320.33 L363.59,320.33 L364.49,320.34 L365.38,320.35 L366.28,320.36 L367.17,320.37 L368.07,320.38 L368.96,320.39 L369.86,320.40 L370.75,320.41 L371.65,320.42 L372.54,320.43 L373.44,320.44 L374.33,320.45 L375.23,320.46 L376.12,320.48 L377.02,320.49 L377.91,320.50 L378.81,320.51 L379.70,320.52 L380.60,320.53 L381.49,320.55 L382.39,320.56 L383.28,320.57 L384.18,320.58 L385.08,320.59 L385.97,320.61 L386.87,320.62 L387.76,320.63 L388.66,320.64 L389.55,320.65 L390.45,320.67 L391.34,320.68 L392.24,320.69 L393.13,320.70 L394.03,320.72 L394.92,320.73 L395.82,320.74 L396.71,320.75 L397.61,320.76 L398.50,320.78 L399.40,320.79 L400.29,320.80 L401.19,320.81 L402.08,320.83 L402.98,320.84 L403.87,320.85 L404.77,320.86 L405.66,320.87 L406.56,320.88 L407.45,320.90 L408.35,320.91 L409.24,320.92 L410.14,320.93 L411.03,320.94 L411.93,320.95 L412.82,320.96 L413.72,320.97 L414.61,320.98 L415.51,320.99 L416.40,321.00 L417.30,321.01 L418.19,321.02 L419.09,321.03 L419.98,321.04 L420.88,321.05 L421.77,321.06 L422.67,321.07 L423.56,321.08 L424.45,321.09 L425.35,321.10 L426.24,321.10 L427.14,321.11 L428.03,321.12 L428.93,321.13 L429.82,321.13 L430.71,321.14 L431.61,321.15 L432.50,321.15 L433.40,321.16 L434.29,321.16 L435.18,321.17 L436.08,321.17 L436.97,321.18 L437.87,321.18 L438.76,321.19 L439.65,321.19 L440.55,321.19 L441.44,321.19 L442.33,321.20 L443.23,321.20 L444.12,321.20 L445.01,321.20 L445.91,321.20 L446.80,321.20 L447.69,321.20 L448.58,321.20 L449.48,321.20 L450.37,321.20 L451.26,321.20 L452.16,321.20 L453.05,321.20 L453.94,321.19 L454.83,321.19 L455.72,321.19 L456.62,321.18 L457.51,321.18 L458.40,321.17 L459.29,321.17 L460.18,321.16 L461.08,321.16 L461.97,321.15 L462.86,321.14 L463.75,321.13 L464.64,321.13 L465.53,321.12 L466.43,321.11 L467.32,321.10 L468.21,321.09 L469.10,321.07 L469.99,321.06 L672.00,321.30" stroke="#D95319" clip-path="url(#cb)"/>
<path d="M55.86,476.51 L56.06,475.66 L56.27,474.81 L56.47,473.96 L56.67,473.11 L56.88,472.26 L57.09,471.40 L57.29,470.55 L57.50,469.70 L57.71,468.85 L57.91,468.00 L58.12,467.15 L58.33,466.30 L58.54,465.45 L58.75,464.60 L58.96,463.75 L59.18,462.90 L59.39,462.05 L59.60,461.20 L59.81,460.35 L60.03,459.50 L60.24,458.65 L60.46,457.81 L60.67,456.96 L60.89,456.11 L61.11,455.26 L61.32,454.41 L61.54,453.56 L61.76,452.71 L61.98,451.87 L62.20,451.02 L62.42,450.17 L62.64,449.32 L62.86,448.48 L63.08,447.63 L63.30,446.78 L63.52,445.93 L63.75,445.09 L63.97,444.24 L64.20,443.39 L64.42,442.55 L64.65,441.70 L64.87,440.85 L65.10,440.01 L65.33,439.16 L65.55,438.31 L65.78,437.47 L66.01,436.62 L66.24,435.78 L66.47,434.93 L66.70,434.09 L66.93,433.24 L67.16,432.40 L67.39,431.55 L67.63,430.71 L67.86,429.86 L68.09,429.02 L68.33,428.17 L68.56,427.33 L68.80,426.49 L69.03,425.64 L69.27,424.80 L69.51,423.95 L69.74,423.11 L69.98,422.27 L70.22,421.42 L70.46,420.58 L70.70,419.74 L70.94,418.90 L71.18,418.05 L71.42,417.21 L71.66,416.37 L71.90,415.53 L72.14,414.68 L72.39,413.84 L72.63,413.00 L72.87,412.16 L73.12,411.32 L73.36,410.48 L73.61,409.63 L73.85,408.79 L74.10,407.95 L74.35,407.11 L74.60,406.27 L74.84,405.43 L75.09,404.59 L75.34,403.75 L75.59,402.91 L75.84,402.07 L76.09,401.23 L76.34,400.39 L76.59,399.55 L76.85,398.71 L77.10,397.87 L77.35,397.03 L77.61,396.19 L77.86,395.35 L78.11,394.52 L78.37,393.68 L78.62,392.84 L78.88,392.00 L79.14,391.16 L79.39,390.32 L79.65,389.49 L79.91,388.65 L80.17,387.81 L80.43,386.97 L80.69,386.14 L80.95,385.30 L81.21,384.46 L81.47,383.63 L81.73,382.79 L81.99,381.95 L82.25,381.12 L82.52,380.28 L82.78,379.45 L83.04,378.61 L83.31,377.77 L83.57,376.94 L83.84,376.10 L84.10,375.27 L84.37,374.43 L84.64,373.60 L84.90,372.76 L85.17,371.93 L85.44,371.09 L85.71,370.26 L85.98,369.43 L86.25,368.59 L86.52,367.76 L86.79,366.92 L87.06,366.09 L87.33,365.26 L87.60,364.42 L87.87,363.59 L88.15,362.76 L88.42,361.92 L88.69,361.09 L88.97,360.26 L89.24,359.43 L89.52,358.60 L89.79,357.76 L90.07,356.93 L90.35,356.10 L90.63,355.27 L90.91,354.44 L91.19,353.61 L91.47,352.78 L91.76,351.95 L92.04,351.13 L92.33,350.30 L92.62,349.47 L92.92,348.65 L93.21,347.83 L93.51,347.00 L93.81,346.18 L94.11,345.36 L94.42,344.54 L94.73,343.73 L95.04,342.91 L95.36,342.09 L95.68,341.28 L96.01,340.47 L96.33,339.66 L96.67,338.85 L97.00,338.05 L97.34,337.24 L97.69,336.44 L98.04,335.64 L98.39,334.84 L98.75,334.05 L99.11,333.25 L99.48,332.46 L99.86,331.67 L100.24,330.88 L100.62,330.10 L101.02,329.32 L101.41,328.54 L101.82,327.76 L102.23,326.99 L102.64,326.22 L103.06,325.45 L103.49,324.68 L103.92,323.91 L104.36,323.15 L104.80,322.39 L105.24,321.63 L105.69,320.88 L106.14,320.12 L106.60,319.36 L107.06,318.61 L107.52,317.86 L107.98,317.11 L108.45,316.36 L108.91,315.61 L109.38,314.86 L109.86,314.11 L110.33,313.37 L110.82,312.63 L111.31,311.90 L111.80,311.18 L112.31,310.46 L112.83,309.76 L113.36,309.07 L113.90,308.39 L114.45,307.73 L115.03,307.08 L115.61,306.45 L116.22,305.83 L116.84,305.24 L117.49,304.67 L118.16,304.13 L118.85,303.60 L119.56,303.11 L120.30,302.64 L121.06,302.19 L121.84,301.78 L122.65,301.39 L123.46,301.02 L124.30,300.69 L125.14,300.38 L125.99,300.09 L126.85,299.83 L127.71,299.60 L128.58,299.39 L129.44,299.21 L130.30,299.05 L131.17,298.92 L132.03,298.81 L132.88,298.72 L133.74,298.66 L134.59,298.61 L135.45,298.59 L136.30,298.59 L137.15,298.61 L138.00,298.66 L138.84,298.72 L139.69,298.80 L140.53,298.89 L141.38,299.01 L142.22,299.14 L143.06,299.29 L143.90,299.46 L144.73,299.64 L145.57,299.84 L146.40,300.05 L147.24,300.27 L148.07,300.51 L148.90,300.76 L149.73,301.03 L150.55,301.30 L151.38,301.59 L152.21,301.89 L153.03,302.20 L153.85,302.52 L154.67,302.85 L155.49,303.18 L156.31,303.53 L157.13,303.88 L157.95,304.24 L158.76,304.61 L159.58,304.98 L160.39,305.36 L161.20,305.74 L162.01,306.13 L162.82,306.52 L163.63,306.91 L164.44,307.31 L165.25,307.71 L166.05,308.11 L166.86,308.51 L167.66,308.92 L168.47,309.32 L169.27,309.72 L170.07,310.12 L170.87,310.52 L171.67,310.92 L172.47,311.32 L173.27,311.71 L174.07,312.10 L174.86,312.49 L175.66,312.87 L176.45,313.25 L177.25,313.63 L178.04,314.00 L178.84,314.37 L179.63,314.74 L180.43,315.10 L181.22,315.46 L182.02,315.82 L182.82,316.17 L183.61,316.52 L184.41,316.86 L185.21,317.20 L186.00,317.53 L186.80,317.86 L187.60,318.19 L188.40,318.51 L189.20,318.82 L190.01,319.13 L190.81,319.44 L191.62,319.74 L192.42,320.03 L193.23,320.32 L194.04,320.61 L194.86,320.88 L195.67,321.16 L196.48,321.42 L197.30,321.69 L198.12,321.94 L198.94,322.19 L199.77,322.43 L200.60,322.67 L201.42,322.90 L202.26,323.13 L203.09,323.34 L203.93,323.56 L204.77,323.76 L205.61,323.96 L206.46,324.15 L207.31,324.33 L208.16,324.51 L209.02,324.68 L209.87,324.84 L210.74,325.00 L211.60,325.14 L212.47,325.28 L213.34,325.42 L214.21,325.54 L215.09,325.66 L215.96,325.78 L216.84,325.88 L217.72,325.98 L218.60,326.07 L219.49,326.16 L220.37,326.24 L221.26,326.31 L222.15,326.37 L223.03,326.43 L223.92,326.48 L224.81,326.52 L225.70,326.56 L226.60,326.59 L227.49,326.62 L228.38,326.63 L229.27,326.64 L230.16,326.65 L231.05,326.64 L231.94,326.63 L232.83,326.62 L233.72,326.59 L234.61,326.56 L235.50,326.53 L236.38,326.49 L237.27,326.44 L238.15,326.38 L239.03,326.32 L239.91,326.25 L240.79,326.18 L241.66,326.09 L242.54,326.01 L243.41,325.92 L244.28,325.82 L245.15,325.72 L246.02,325.61 L246.89,325.50 L247.75,325.39 L248.62,325.27 L249.48,325.15 L250.35,325.03 L251.21,324.91 L252.07,324.79 L252.93,324.66 L253.79,324.54 L254.66,324.41 L255.52,324.28 L256.38,324.16 L257.24,324.04 L258.10,323.91 L258.96,323.79 L259.82,323.67 L260.68,323.55 L261.54,323.44 L262.41,323.33 L263.27,323.22 L264.14,323.12 L265.00,323.02 L265.87,322.92 L266.73,322.82 L267.60,322.73 L268.47,322.64 L269.33,322.56 L270.20,322.47 L271.07,322.39 L271.94,322.32 L272.81,322.24 L273.68,322.17 L274.55,322.10 L275.42,322.03 L276.29,321.97 L277.16,321.91 L278.04,321.85 L278.91,321.79 L279.78,321.73 L280.66,321.68 L281.53,321.63 L282.40,321.58 L283.28,321.53 L284.15,321.49 L285.03,321.44 L285.90,321.40 L286.78,321.36 L287.66,321.33 L288.53,321.29 L289.41,321.26 L290.29,321.22 L291.16,321.19 L292.04,321.16 L292.92,321.13 L293.80,321.11 L294.67,321.08 L295.55,321.06 L296.43,321.03 L297.31,321.01 L298.19,320.99 L299.06,320.97 L299.94,320.95 L300.82,320.93 L301.70,320.92 L302.58,320.90 L303.46,320.88 L304.33,320.87 L305.21,320.85 L306.09,320.84 L306.97,320.83 L307.85,320.81 L308.73,320.80 L309.61,320.79 L310.48,320.78 L311.36,320.77 L312.24,320.76 L313.12,320.75 L314.00,320.74 L314.88,320.73 L315.75,320.72 L316.63,320.71 L317.51,320.70 L318.39,320.69 L319.27,320.68 L320.14,320.68 L321.02,320.67 L321.90,320.66 L322.78,320.65 L323.65,320.65 L324.53,320.64 L325.41,320.64 L326.29,320.63 L327.16,320.63 L328.04,320.62 L328.92,320.62 L329.80,320.61 L330.67,320.61 L331.55,320.61 L332.43,320.60 L333.30,320.60 L334.18,320.60 L335.06,320.59 L335.93,320.59 L336.81,320.59 L337.69,320.59 L338.57,320.59 L339.44,320.59 L340.32,320.58 L341.20,320.58 L342.07,320.58 L342.95,320.58 L343.83,320.58 L344.70,320.58 L345.58,320.58 L346.45,320.58 L347.33,320.59 L348.21,320.59 L349.08,320.59 L349.96,320.59 L350.84,320.59 L351.71,320.59 L352.59,320.60 L353.47,320.60 L354.34,320.60 L355.22,320.60 L356.09,320.61 L356.97,320.61 L357.85,320.61 L358.72,320.62 L359.60,320.62 L360.47,320.62 L361.35,320.63 L362.23,320.63 L363.10,320.64 L363.98,320.64 L364.85,320.65 L365.73,320.65 L366.61,320.66 L367.48,320.66 L368.36,320.67 L369.23,320.67 L370.11,320.68 L370.98,320.68 L371.86,320.69 L372.74,320.69 L373.61,320.70 L374.49,320.70 L375.36,320.71 L376.24,320.72 L377.11,320.72 L377.99,320.73 L378.87,320.74 L379.74,320.74 L380.62,320.75 L381.49,320.76 L382.37,320.76 L383.24,320.77 L384.12,320.78 L385.00,320.78 L385.87,320.79 L386.75,320.80 L387.62,320.80 L388.50,320.81 L389.37,320.82 L390.25,320.83 L391.12,320.83 L392.00,320.84 L392.88,320.85 L393.75,320.86 L394.63,320.86 L395.50,320.87 L396.38,320.88 L397.25,320.89 L398.13,320.89 L399.00,320.90 L399.88,320.91 L400.76,320.92 L401.63,320.92 L402.51,320.93 L403.38,320.94 L404.26,320.95 L405.13,320.95 L406.01,320.96 L406.89,320.97 L407.76,320.98 L408.64,320.98 L409.51,320.99 L410.39,321.00 L411.26,321.00 L412.14,321.01 L413.02,321.02 L413.89,321.03 L414.77,321.03 L415.64,321.04 L416.52,321.05 L417.39,321.05 L418.27,321.06 L419.15,321.07 L420.02,321.07 L420.90,321.08 L421.77,321.09 L422.65,321.09 L423.53,321.10 L424.40,321.10 L425.28,321.11 L426.15,321.12 L427.03,321.12 L427.91,321.13 L428.78,321.13 L429.66,321.14 L430.54,321.14 L431.41,321.15 L432.29,321.15 L433.16,321.16 L434.04,321.16 L434.92,321.17 L435.79,321.17 L436.67,321.17 L437.55,321.18 L438.42,321.18 L439.30,321.19 L440.18,321.19 L441.05,321.19 L441.93,321.20 L442.81,321.20 L443.68,321.20 L444.56,321.20 L445.44,321.21 L446.31,321.21 L447.19,321.21 L448.07,321.21 L448.94,321.22 L449.82,321.22 L450.70,321.22 L451.58,321.22 L452.45,321.22 L453.33,321.22 L454.21,321.22 L455.08,321.22 L455.96,321.22 L456.84,321.22 L457.72,321.22 L458.59,321.22 L459.47,321.22 L460.35,321.22 L461.23,321.21 L462.10,321.21 L462.98,321.21 L463.86,321.21 L464.74,321.20 L465.62,321.20 L466.49,321.20 L467.37,321.20 L468.25,321.19 L469.13,321.19 L470.01,321.18 L672.00,321.30" stroke="#EDB120" clip-path="url(#cb)"/>
<path d="M55.70,475.98 L55.92,475.13 L56.13,474.28 L56.35,473.43 L56.57,472.59 L56.79,471.74 L57.01,470.90 L57.24,470.05 L57.46,469.21 L57.69,468.36 L57.92,467.52 L58.15,466.67 L58.38,465.83 L58.62,464.99 L58.85,464.15 L59.09,463.30 L59.33,462.46 L59.57,461.62 L59.81,460.78 L60.05,459.94 L60.29,459.10 L60.54,458.26 L60.78,457.42 L61.03,456.58 L61.27,455.74 L61.52,454.90 L61.77,454.06 L62.02,453.22 L62.27,452.38 L62.52,451.55 L62.77,450.71 L63.03,449.87 L63.28,449.03 L63.54,448.19 L63.79,447.36 L64.05,446.52 L64.30,445.68 L64.56,444.85 L64.82,444.01 L65.07,443.17 L65.33,442.34 L65.59,441.50 L65.85,440.66 L66.11,439.83 L66.37,438.99 L66.63,438.16 L66.89,437.32 L67.15,436.48 L67.41,435.65 L67.67,434.81 L67.93,433.98 L68.19,433.14 L68.45,432.30 L68.71,431.47 L68.97,430.63 L69.23,429.80 L69.48,428.96 L69.74,428.12 L70.00,427.29 L70.26,426.45 L70.52,425.61 L70.78,424.78 L71.03,423.94 L71.29,423.10 L71.55,422.27 L71.80,421.43 L72.06,420.59 L72.31,419.76 L72.57,418.92 L72.82,418.08 L73.08,417.24 L73.33,416.41 L73.58,415.57 L73.83,414.73 L74.08,413.89 L74.33,413.05 L74.58,412.21 L74.83,411.38 L75.08,410.54 L75.33,409.70 L75.57,408.86 L75.82,408.02 L76.07,407.18 L76.32,406.34 L76.56,405.50 L76.81,404.66 L77.06,403.82 L77.30,402.98 L77.55,402.14 L77.80,401.30 L78.04,400.46 L78.29,399.63 L78.53,398.79 L78.78,397.95 L79.03,397.11 L79.27,396.27 L79.52,395.43 L79.77,394.59 L80.01,393.75 L80.26,392.91 L80.51,392.07 L80.75,391.23 L81.00,390.39 L81.25,389.55 L81.50,388.72 L81.75,387.88 L82.00,387.04 L82.25,386.20 L82.50,385.36 L82.75,384.52 L83.00,383.68 L83.25,382.85 L83.50,382.01 L83.75,381.17 L84.01,380.33 L84.26,379.50 L84.52,378.66 L84.77,377.82 L85.03,376.99 L85.29,376.15 L85.54,375.31 L85.80,374.48 L86.06,373.64 L86.32,372.81 L86.58,371.97 L86.85,371.14 L87.11,370.30 L87.38,369.47 L87.64,368.63 L87.91,367.80 L88.18,366.97 L88.45,366.14 L88.72,365.30 L88.99,364.47 L89.26,363.64 L89.54,362.81 L89.81,361.98 L90.09,361.15 L90.37,360.32 L90.65,359.49 L90.94,358.66 L91.22,357.84 L91.51,357.01 L91.80,356.18 L92.09,355.36 L92.38,354.54 L92.67,353.71 L92.97,352.89 L93.27,352.07 L93.57,351.25 L93.87,350.43 L94.18,349.61 L94.49,348.79 L94.80,347.97 L95.11,347.16 L95.43,346.34 L95.74,345.53 L96.06,344.71 L96.39,343.90 L96.71,343.09 L97.04,342.28 L97.37,341.47 L97.70,340.67 L98.04,339.86 L98.38,339.05 L98.72,338.25 L99.07,337.45 L99.42,336.65 L99.77,335.85 L100.12,335.05 L100.48,334.25 L100.84,333.46 L101.21,332.66 L101.58,331.87 L101.95,331.08 L102.32,330.29 L102.70,329.50 L103.09,328.72 L103.47,327.93 L103.86,327.15 L104.25,326.37 L104.65,325.59 L105.05,324.81 L105.46,324.03 L105.87,323.26 L106.28,322.48 L106.70,321.71 L107.12,320.94 L107.54,320.18 L107.97,319.41 L108.40,318.65 L108.84,317.89 L109.28,317.13 L109.73,316.37 L110.18,315.61 L110.64,314.86 L111.10,314.11 L111.56,313.36 L112.04,312.62 L112.52,311.88 L113.01,311.16 L113.51,310.43 L114.02,309.72 L114.54,309.02 L115.07,308.32 L115.62,307.64 L116.18,306.97 L116.75,306.31 L117.34,305.67 L117.94,305.04 L118.56,304.43 L119.19,303.83 L119.84,303.25 L120.52,302.69 L121.20,302.14 L121.91,301.62 L122.63,301.12 L123.37,300.64 L124.12,300.18 L124.88,299.75 L125.66,299.34 L126.44,298.95 L127.24,298.59 L128.04,298.26 L128.86,297.96 L129.68,297.68 L130.50,297.44 L131.34,297.22 L132.17,297.04 L133.01,296.89 L133.86,296.76 L134.71,296.66 L135.56,296.60 L136.42,296.55 L137.28,296.54 L138.14,296.54 L139.00,296.57 L139.86,296.63 L140.73,296.70 L141.59,296.80 L142.46,296.91 L143.33,297.05 L144.20,297.20 L145.06,297.37 L145.93,297.56 L146.79,297.76 L147.66,297.97 L148.52,298.20 L149.38,298.44 L150.24,298.70 L151.09,298.96 L151.94,299.23 L152.79,299.52 L153.64,299.81 L154.48,300.10 L155.31,300.41 L156.14,300.71 L156.97,301.03 L157.79,301.35 L158.61,301.67 L159.43,302.00 L160.24,302.33 L161.05,302.67 L161.85,303.02 L162.65,303.36 L163.45,303.71 L164.25,304.07 L165.04,304.43 L165.83,304.79 L166.62,305.16 L167.40,305.53 L168.19,305.91 L168.97,306.28 L169.75,306.66 L170.53,307.05 L171.31,307.44 L172.08,307.83 L172.86,308.22 L173.63,308.61 L174.41,309.01 L175.18,309.41 L175.96,309.81 L176.73,310.21 L177.51,310.60 L178.28,311.00 L179.06,311.40 L179.84,311.80 L180.62,312.19 L181.39,312.58 L182.18,312.97 L182.96,313.36 L183.74,313.74 L184.53,314.12 L185.32,314.49 L186.11,314.86 L186.91,315.22 L187.71,315.58 L188.51,315.93 L189.31,316.27 L190.12,316.61 L190.93,316.93 L191.75,317.25 L192.57,317.57 L193.39,317.87 L194.21,318.16 L195.04,318.45 L195.88,318.73 L196.71,319.00 L197.55,319.27 L198.39,319.52 L199.24,319.77 L200.08,320.01 L200.93,320.24 L201.78,320.47 L202.64,320.69 L203.49,320.90 L204.35,321.10 L205.20,321.30 L206.06,321.48 L206.92,321.66 L207.78,321.84 L208.64,322.00 L209.50,322.16 L210.36,322.32 L211.23,322.46 L212.09,322.60 L212.95,322.73 L213.82,322.86 L214.68,322.98 L215.55,323.09 L216.41,323.20 L217.28,323.30 L218.15,323.39 L219.01,323.48 L219.88,323.56 L220.75,323.64 L221.62,323.71 L222.49,323.78 L223.36,323.84 L224.23,323.90 L225.10,323.95 L225.97,323.99 L226.84,324.04 L227.71,324.07 L228.58,324.10 L229.45,324.13 L230.32,324.15 L231.20,324.17 L232.07,324.19 L232.94,324.20 L233.82,324.20 L234.69,324.20 L235.56,324.20 L236.44,324.20 L237.31,324.19 L238.19,324.18 L239.06,324.16 L239.93,324.14 L240.81,324.12 L241.68,324.10 L242.56,324.07 L243.43,324.04 L244.31,324.00 L245.19,323.97 L246.06,323.93 L246.94,323.89 L247.81,323.84 L248.69,323.80 L249.56,323.75 L250.44,323.70 L251.31,323.65 L252.19,323.60 L253.07,323.55 L253.94,323.49 L254.82,323.43 L255.69,323.37 L256.57,323.31 L257.44,323.25 L258.32,323.19 L259.19,323.13 L260.07,323.07 L260.94,323.00 L261.82,322.94 L262.69,322.87 L263.57,322.81 L264.44,322.74 L265.32,322.68 L266.19,322.61 L267.06,322.55 L267.94,322.48 L268.81,322.41 L269.68,322.35 L270.56,322.28 L271.43,322.21 L272.30,322.15 L273.18,322.08 L274.05,322.02 L274.92,321.95 L275.79,321.88 L276.67,321.82 L277.54,321.75 L278.41,321.69 L279.28,321.62 L280.16,321.56 L281.03,321.49 L281.90,321.43 L282.77,321.37 L283.65,321.31 L284.52,321.24 L285.39,321.18 L286.26,321.12 L287.13,321.06 L288.01,321.00 L288.88,320.95 L289.75,320.89 L290.62,320.83 L291.49,320.78 L292.37,320.72 L293.24,320.67 L294.11,320.62 L294.98,320.56 L295.86,320.51 L296.73,320.46 L297.60,320.42 L298.47,320.37 L299.34,320.32 L300.22,320.28 L301.09,320.24 L301.96,320.20 L302.83,320.16 L303.71,320.12 L304.58,320.08 L305.45,320.05 L306.33,320.01 L307.20,319.98 L308.07,319.95 L308.95,319.92 L309.82,319.89 L310.69,319.87 L311.57,319.84 L312.44,319.82 L313.32,319.80 L314.19,319.78 L315.06,319.77 L315.94,319.75 L316.81,319.74 L317.69,319.72 L318.56,319.71 L319.44,319.70 L320.31,319.69 L321.19,319.68 L322.06,319.68 L322.94,319.67 L323.81,319.67 L324.69,319.67 L325.56,319.67 L326.44,319.67 L327.31,319.67 L328.19,319.67 L329.06,319.67 L329.94,319.68 L330.81,319.68 L331.69,319.69 L332.56,319.69 L333.44,319.70 L334.32,319.71 L335.19,319.72 L336.07,319.73 L336.94,319.74 L337.82,319.75 L338.70,319.76 L339.57,319.78 L340.45,319.79 L341.33,319.80 L342.20,319.82 L343.08,319.83 L343.95,319.85 L344.83,319.86 L345.71,319.88 L346.58,319.90 L347.46,319.92 L348.34,319.93 L349.21,319.95 L350.09,319.97 L350.96,319.99 L351.84,320.01 L352.72,320.02 L353.59,320.04 L354.47,320.06 L355.35,320.08 L356.22,320.10 L357.10,320.12 L357.98,320.14 L358.85,320.16 L359.73,320.18 L360.60,320.20 L361.48,320.22 L362.36,320.23 L363.23,320.25 L364.11,320.27 L364.99,320.29 L365.86,320.31 L366.74,320.32 L367.61,320.34 L368.49,320.36 L369.37,320.37 L370.24,320.39 L371.12,320.41 L371.99,320.42 L372.87,320.43 L373.75,320.45 L374.62,320.46 L375.50,320.47 L376.37,320.49 L377.25,320.50 L378.12,320.51 L379.00,320.52 L379.88,320.53 L380.75,320.54 L381.63,320.54 L382.50,320.55 L383.38,320.56 L384.25,320.56 L385.13,320.57 L386.00,320.58 L386.88,320.58 L387.75,320.59 L388.63,320.59 L389.50,320.59 L390.38,320.60 L391.25,320.60 L392.13,320.60 L393.00,320.60 L393.88,320.61 L394.75,320.61 L395.62,320.61 L396.50,320.61 L397.37,320.61 L398.25,320.61 L399.12,320.61 L400.00,320.61 L400.87,320.61 L401.75,320.61 L402.62,320.61 L403.50,320.61 L404.37,320.60 L405.24,320.60 L406.12,320.60 L406.99,320.60 L407.87,320.60 L408.74,320.59 L409.62,320.59 L410.49,320.59 L411.36,320.58 L412.24,320.58 L413.11,320.58 L413.99,320.58 L414.86,320.57 L415.74,320.57 L416.61,320.57 L417.49,320.56 L418.36,320.56 L419.23,320.56 L420.11,320.55 L420.98,320.55 L421.86,320.55 L422.73,320.55 L423.61,320.54 L424.48,320.54 L425.35,320.54 L426.23,320.54 L427.10,320.53 L427.98,320.53 L428.85,320.53 L429.73,320.53 L430.60,320.53 L431.48,320.53 L432.35,320.53 L433.23,320.52 L434.10,320.52 L434.97,320.52 L435.85,320.52 L436.72,320.52 L437.60,320.53 L438.47,320.53 L439.35,320.53 L440.22,320.53 L441.10,320.53 L441.97,320.53 L442.85,320.54 L443.72,320.54 L444.60,320.54 L445.47,320.55 L446.35,320.55 L447.22,320.56 L448.10,320.56 L448.97,320.57 L449.85,320.58 L450.73,320.58 L451.60,320.59 L452.48,320.60 L453.35,320.61 L454.23,320.62 L455.10,320.63 L455.98,320.64 L456.85,320.65 L457.73,320.66 L458.61,320.68 L459.48,320.69 L460.36,320.70 L461.23,320.72 L462.11,320.73 L462.99,320.75 L463.86,320.77 L464.74,320.78 L465.62,320.80 L466.49,320.82 L467.37,320.84 L468.25,320.86 L469.12,320.88 L470.00,320.90 L672.00,321.20" stroke="#7E2F8E" clip-path="url(#cb)"/>
<path d="M55.64,479.78 L55.93,478.98 L56.21,478.19 L56.49,477.39 L56.77,476.60 L57.05,475.80 L57.32,475.01 L57.60,474.21 L57.88,473.42 L58.15,472.62 L58.43,471.82 L58.70,471.03 L58.98,470.23 L59.25,469.43 L59.53,468.63 L59.80,467.83 L60.07,467.04 L60.34,466.24 L60.61,465.44 L60.88,464.64 L61.15,463.84 L61.42,463.04 L61.69,462.24 L61.96,461.44 L62.23,460.64 L62.49,459.84 L62.76,459.04 L63.03,458.24 L63.29,457.43 L63.56,456.63 L63.83,455.83 L64.09,455.03 L64.36,454.23 L64.62,453.43 L64.89,452.62 L65.15,451.82 L65.42,451.02 L65.68,450.22 L65.94,449.42 L66.21,448.61 L66.47,447.81 L66.73,447.01 L67.00,446.20 L67.26,445.40 L67.52,444.60 L67.79,443.79 L68.05,442.99 L68.31,442.19 L68.57,441.38 L68.84,440.58 L69.10,439.78 L69.36,438.97 L69.63,438.17 L69.89,437.37 L70.15,436.56 L70.42,435.76 L70.68,434.96 L70.94,434.15 L71.21,433.35 L71.47,432.54 L71.73,431.74 L72.00,430.94 L72.26,430.13 L72.53,429.33 L72.79,428.53 L73.06,427.72 L73.32,426.92 L73.59,426.12 L73.85,425.31 L74.12,424.51 L74.39,423.71 L74.65,422.91 L74.92,422.10 L75.19,421.30 L75.46,420.50 L75.72,419.69 L75.99,418.89 L76.26,418.09 L76.53,417.29 L76.80,416.49 L77.07,415.68 L77.34,414.88 L77.62,414.08 L77.89,413.28 L78.16,412.48 L78.44,411.68 L78.71,410.88 L78.98,410.08 L79.26,409.28 L79.54,408.48 L79.81,407.68 L80.09,406.88 L80.37,406.08 L80.65,405.28 L80.93,404.48 L81.21,403.68 L81.49,402.88 L81.77,402.08 L82.05,401.29 L82.34,400.49 L82.62,399.69 L82.91,398.89 L83.19,398.10 L83.48,397.30 L83.77,396.50 L84.06,395.71 L84.35,394.91 L84.64,394.12 L84.93,393.32 L85.22,392.53 L85.52,391.73 L85.81,390.94 L86.11,390.14 L86.40,389.35 L86.70,388.56 L87.00,387.77 L87.30,386.97 L87.60,386.18 L87.90,385.39 L88.21,384.60 L88.51,383.81 L88.82,383.02 L89.12,382.23 L89.43,381.44 L89.74,380.65 L90.05,379.86 L90.36,379.07 L90.68,378.29 L90.99,377.50 L91.31,376.71 L91.63,375.93 L91.95,375.14 L92.27,374.36 L92.59,373.57 L92.91,372.79 L93.24,372.01 L93.56,371.23 L93.89,370.44 L94.22,369.66 L94.55,368.89 L94.88,368.11 L95.22,367.33 L95.55,366.55 L95.89,365.78 L96.23,365.00 L96.57,364.23 L96.92,363.45 L97.26,362.68 L97.61,361.91 L97.96,361.14 L98.31,360.37 L98.66,359.60 L99.01,358.84 L99.37,358.07 L99.73,357.30 L100.09,356.54 L100.45,355.78 L100.82,355.02 L101.18,354.26 L101.55,353.50 L101.92,352.74 L102.30,351.99 L102.67,351.23 L103.05,350.48 L103.43,349.73 L103.81,348.97 L104.19,348.23 L104.58,347.48 L104.97,346.73 L105.36,345.99 L105.75,345.24 L106.15,344.50 L106.55,343.76 L106.95,343.02 L107.35,342.28 L107.76,341.55 L108.17,340.82 L108.59,340.09 L109.01,339.36 L109.43,338.63 L109.86,337.91 L110.29,337.19 L110.73,336.47 L111.18,335.76 L111.63,335.05 L112.09,334.34 L112.55,333.64 L113.03,332.94 L113.51,332.25 L114.00,331.56 L114.50,330.87 L115.00,330.19 L115.52,329.52 L116.04,328.85 L116.58,328.18 L117.12,327.52 L117.68,326.86 L118.24,326.21 L118.82,325.57 L119.40,324.94 L120.00,324.31 L120.60,323.69 L121.21,323.08 L121.84,322.47 L122.47,321.88 L123.10,321.29 L123.75,320.72 L124.41,320.15 L125.07,319.60 L125.74,319.06 L126.42,318.53 L127.11,318.01 L127.80,317.50 L128.50,317.01 L129.21,316.53 L129.92,316.06 L130.64,315.61 L131.37,315.17 L132.10,314.75 L132.84,314.34 L133.59,313.95 L134.34,313.57 L135.09,313.22 L135.86,312.88 L136.62,312.55 L137.39,312.25 L138.17,311.96 L138.95,311.69 L139.73,311.45 L140.52,311.22 L141.32,311.00 L142.11,310.81 L142.92,310.63 L143.72,310.47 L144.53,310.33 L145.34,310.20 L146.15,310.09 L146.97,309.99 L147.79,309.91 L148.62,309.84 L149.44,309.79 L150.27,309.75 L151.10,309.72 L151.94,309.71 L152.77,309.70 L153.61,309.71 L154.45,309.73 L155.29,309.76 L156.13,309.81 L156.98,309.86 L157.82,309.92 L158.67,309.99 L159.52,310.07 L160.36,310.16 L161.21,310.25 L162.06,310.36 L162.91,310.47 L163.76,310.58 L164.61,310.71 L165.46,310.84 L166.31,310.97 L167.16,311.11 L168.01,311.25 L168.86,311.40 L169.70,311.55 L170.55,311.71 L171.40,311.87 L172.24,312.03 L173.09,312.19 L173.93,312.35 L174.77,312.52 L175.61,312.69 L176.45,312.86 L177.29,313.03 L178.12,313.20 L178.96,313.37 L179.79,313.55 L180.63,313.73 L181.46,313.90 L182.29,314.08 L183.13,314.26 L183.96,314.44 L184.79,314.62 L185.62,314.80 L186.45,314.98 L187.28,315.16 L188.10,315.34 L188.93,315.52 L189.76,315.70 L190.59,315.88 L191.41,316.06 L192.24,316.23 L193.07,316.41 L193.89,316.59 L194.72,316.76 L195.54,316.94 L196.37,317.11 L197.20,317.28 L198.02,317.45 L198.85,317.62 L199.67,317.78 L200.50,317.95 L201.32,318.11 L202.15,318.27 L202.98,318.42 L203.80,318.58 L204.63,318.73 L205.46,318.88 L206.28,319.03 L207.11,319.17 L207.94,319.31 L208.77,319.45 L209.60,319.58 L210.43,319.71 L211.25,319.84 L212.09,319.96 L212.92,320.08 L213.75,320.20 L214.58,320.32 L215.41,320.43 L216.24,320.54 L217.08,320.64 L217.91,320.75 L218.74,320.85 L219.58,320.94 L220.41,321.04 L221.25,321.13 L222.08,321.22 L222.92,321.30 L223.75,321.39 L224.59,321.47 L225.43,321.55 L226.27,321.62 L227.10,321.70 L227.94,321.77 L228.78,321.83 L229.62,321.90 L230.46,321.96 L231.30,322.02 L232.14,322.08 L232.98,322.14 L233.82,322.19 L234.66,322.24 L235.50,322.29 L236.34,322.34 L237.18,322.39 L238.02,322.43 L238.86,322.47 L239.71,322.51 L240.55,322.54 L241.39,322.58 L242.24,322.61 L243.08,322.64 L243.92,322.67 L244.77,322.70 L245.61,322.72 L246.46,322.74 L247.30,322.77 L248.15,322.79 L248.99,322.80 L249.84,322.82 L250.68,322.83 L251.53,322.85 L252.37,322.86 L253.22,322.87 L254.07,322.88 L254.91,322.88 L255.76,322.89 L256.61,322.89 L257.45,322.90 L258.30,322.90 L259.15,322.90 L260.00,322.89 L260.85,322.89 L261.69,322.89 L262.54,322.88 L263.39,322.88 L264.24,322.87 L265.09,322.86 L265.94,322.85 L266.79,322.84 L267.63,322.83 L268.48,322.82 L269.33,322.80 L270.18,322.79 L271.03,322.77 L271.88,322.76 L272.73,322.74 L273.58,322.72 L274.43,322.70 L275.28,322.68 L276.13,322.66 L276.98,322.64 L277.83,322.62 L278.68,322.60 L279.53,322.58 L280.38,322.55 L281.23,322.53 L282.08,322.51 L282.93,322.48 L283.78,322.46 L284.63,322.43 L285.49,322.41 L286.34,322.38 L287.19,322.36 L288.04,322.33 L288.89,322.31 L289.74,322.28 L290.59,322.25 L291.44,322.23 L292.29,322.20 L293.14,322.17 L293.99,322.15 L294.84,322.12 L295.69,322.09 L296.54,322.07 L297.39,322.04 L298.24,322.01 L299.09,321.99 L299.94,321.96 L300.79,321.94 L301.64,321.91 L302.49,321.89 L303.34,321.86 L304.19,321.84 L305.04,321.81 L305.89,321.79 L306.74,321.77 L307.59,321.75 L308.44,321.72 L309.29,321.70 L310.13,321.68 L310.98,321.66 L311.83,321.64 L312.68,321.63 L313.53,321.61 L314.38,321.59 L315.23,321.57 L316.07,321.56 L316.92,321.54 L317.77,321.52 L318.62,321.51 L319.46,321.50 L320.31,321.48 L321.16,321.47 L322.01,321.46 L322.85,321.44 L323.70,321.43 L324.55,321.42 L325.39,321.41 L326.24,321.40 L327.09,321.39 L327.94,321.38 L328.78,321.37 L329.63,321.36 L330.47,321.35 L331.32,321.35 L332.17,321.34 L333.01,321.33 L333.86,321.33 L334.70,321.32 L335.55,321.31 L336.40,321.31 L337.24,321.30 L338.09,321.30 L338.93,321.30 L339.78,321.29 L340.62,321.29 L341.47,321.29 L342.32,321.28 L343.16,321.28 L344.01,321.28 L344.85,321.28 L345.70,321.28 L346.54,321.27 L347.39,321.27 L348.23,321.27 L349.08,321.27 L349.92,321.27 L350.76,321.28 L351.61,321.28 L352.45,321.28 L353.30,321.28 L354.14,321.28 L354.99,321.28 L355.83,321.28 L356.68,321.29 L357.52,321.29 L358.36,321.29 L359.21,321.30 L360.05,321.30 L360.90,321.30 L361.74,321.31 L362.59,321.31 L363.43,321.32 L364.27,321.32 L365.12,321.33 L365.96,321.33 L366.81,321.34 L367.65,321.34 L368.49,321.35 L369.34,321.35 L370.18,321.36 L371.03,321.36 L371.87,321.37 L372.71,321.38 L373.56,321.38 L374.40,321.39 L375.24,321.40 L376.09,321.40 L376.93,321.41 L377.78,321.42 L378.62,321.42 L379.46,321.43 L380.31,321.44 L381.15,321.44 L381.99,321.45 L382.84,321.46 L383.68,321.47 L384.53,321.47 L385.37,321.48 L386.21,321.49 L387.06,321.50 L387.90,321.50 L388.74,321.51 L389.59,321.52 L390.43,321.53 L391.28,321.54 L392.12,321.54 L392.96,321.55 L393.81,321.56 L394.65,321.57 L395.50,321.57 L396.34,321.58 L397.18,321.59 L398.03,321.60 L398.87,321.60 L399.72,321.61 L400.56,321.62 L401.40,321.63 L402.25,321.63 L403.09,321.64 L403.94,321.65 L404.78,321.65 L405.63,321.66 L406.47,321.67 L407.31,321.67 L408.16,321.68 L409.00,321.69 L409.85,321.69 L410.69,321.70 L411.54,321.71 L412.38,321.71 L413.23,321.72 L414.07,321.72 L414.92,321.73 L415.76,321.73 L416.61,321.74 L417.45,321.74 L418.30,321.75 L419.14,321.75 L419.99,321.76 L420.83,321.76 L421.68,321.76 L422.52,321.77 L423.37,321.77 L424.21,321.77 L425.06,321.78 L425.91,321.78 L426.75,321.78 L427.60,321.78 L428.44,321.79 L429.29,321.79 L430.14,321.79 L430.98,321.79 L431.83,321.79 L432.68,321.79 L433.52,321.79 L434.37,321.79 L435.22,321.79 L436.06,321.79 L436.91,321.79 L437.76,321.79 L438.60,321.78 L439.45,321.78 L440.30,321.78 L441.14,321.78 L441.99,321.77 L442.84,321.77 L443.69,321.77 L444.54,321.76 L445.38,321.76 L446.23,321.75 L447.08,321.75 L447.93,321.74 L448.78,321.73 L449.62,321.73 L450.47,321.72 L451.32,321.71 L452.17,321.71 L453.02,321.70 L453.87,321.69 L454.72,321.68 L455.57,321.67 L456.42,321.66 L457.27,321.65 L458.12,321.64 L458.97,321.62 L459.82,321.61 L460.67,321.60 L461.52,321.59 L462.37,321.57 L463.22,321.56 L464.07,321.54 L464.92,321.53 L465.77,321.51 L466.62,321.50 L467.47,321.48 L468.32,321.46 L469.17,321.44 L470.03,321.43 L672.00,321.50" stroke="#77AC30" clip-path="url(#cb)"/>
<path d="M56.00,479.50 L56.63,479.50 L57.50,476.50 L58.78,476.50 L60.00,473.00 L61.34,473.00 L62.90,471.00 L64.17,471.00 L65.30,467.00 L66.59,467.00 L67.70,463.00 L68.68,463.00 L70.35,459.00 L71.29,459.00 L73.00,455.00 L74.80,455.00 L76.00,451.00 L77.28,451.00 L79.00,447.00 L80.26,447.00 L82.00,443.15 L83.95,443.15 L85.00,439.30 L86.23,439.30 L87.50,435.90 L89.00,435.90 L90.00,432.50 L92.12,432.50 L94.30,426.20 L96.09,426.20 L97.60,422.90 L98.90,422.90 L100.90,419.60 L102.93,419.60 L104.65,415.70 L106.94,415.70 L108.40,411.80 L110.28,411.80 L112.10,408.65 L114.22,408.65 L115.80,405.50 L118.12,405.50 L120.00,401.50 L121.14,401.50 L123.10,398.50 L124.89,398.50 L126.20,395.50 L127.83,395.50 L129.30,392.50 L130.68,392.50 L132.43,389.50 L133.56,389.50 L135.57,386.50 L137.48,386.50 L138.70,383.50 L140.22,383.50 L141.80,381.10 L143.55,381.10 L144.90,378.70 L146.80,378.70 L148.00,376.30 L149.77,376.30 L151.13,374.10 L153.10,374.10 L154.27,371.90 L155.73,371.90 L157.40,369.70 L159.23,369.70 L160.50,367.80 L162.00,367.80 L163.60,365.90 L165.56,365.90 L166.70,364.00 L168.73,364.00 L170.00,362.20 L171.11,362.20 L172.93,360.57 L174.08,360.57 L175.87,358.93 L177.08,358.93 L178.80,357.30 L180.65,357.30 L181.70,356.00 L183.09,356.00 L184.60,354.70 L186.16,354.70 L187.50,353.40 L188.79,353.40 L190.43,352.23 L191.91,352.23 L193.37,351.07 L194.73,351.07 L196.30,349.90 L197.62,349.90 L199.20,348.73 L200.72,348.73 L202.10,347.57 L203.62,347.57 L205.00,346.40 L206.64,346.40 L207.63,345.67 L209.09,345.67 L210.27,344.93 L211.92,344.93 L212.90,344.20 L672.00,344.20" stroke="#4DBEEE" clip-path="url(#cb)"/>
<path d="M55.60,481.70 L57.60,481.70 L58.70,478.00 L59.59,478.00 L60.00,476.60 L62.61,476.60 L63.70,472.20 L66.59,472.20 L67.50,468.40 L70.04,468.40 L71.20,464.70 L74.06,464.70 L75.00,463.50 L75.95,463.50 L77.20,461.70 L79.37,461.70 L80.90,458.00 L83.79,458.00 L84.70,455.00 L86.86,455.00 L88.00,450.80 L90.75,450.80 L91.70,448.20 L93.45,448.20 L95.50,445.20 L97.68,445.20 L99.20,441.80 L101.13,441.80 L103.00,438.50 L105.28,438.50 L106.70,437.00 L109.02,437.00 L110.40,433.20 L112.01,433.20 L114.20,430.20 L116.09,430.20 L118.00,427.20 L119.64,427.20 L121.15,424.60 L123.51,424.60 L124.30,422.00 L127.29,422.00 L128.60,418.80 L130.65,418.80 L132.90,415.60 L135.69,415.60 L136.85,413.35 L138.71,413.35 L140.80,411.10 L143.34,411.10 L144.75,408.80 L146.59,408.80 L148.70,406.50 L150.07,406.50 L151.95,404.55 L154.33,404.55 L155.20,402.60 L156.83,402.60 L158.50,401.30 L160.14,401.30 L161.80,400.00 L165.70,399.80 L166.71,399.80 L167.00,397.50 L169.59,397.50 L170.53,395.70 L172.39,395.70 L174.07,393.90 L176.77,393.90 L177.60,392.10 L179.61,392.10 L180.88,390.62 L183.05,390.62 L184.15,389.15 L185.77,389.15 L187.42,387.68 L189.91,387.68 L190.70,386.20 L192.75,386.20 L193.77,384.87 L196.12,384.87 L196.83,383.53 L199.11,383.53 L199.90,382.20 L202.64,382.20 L205.10,380.30 L672.00,380.30" stroke="#A2142F" clip-path="url(#cb)"/>
<path d="M56.90,483.50 L58.70,483.50 L60.00,478.10 L61.90,478.10 L63.70,476.60 L66.39,476.60 L67.50,474.00 L69.29,474.00 L71.20,472.20 L73.72,472.20 L75.00,469.90 L77.21,469.90 L78.70,468.00 L80.47,468.00 L82.40,466.40 L83.90,466.40 L84.70,464.70 L86.25,464.70 L88.00,462.00 L90.31,462.00 L91.70,459.60 L93.53,459.60 L95.50,457.20 L97.31,457.20 L99.20,454.90 L101.56,454.90 L103.00,453.50 L105.88,453.50 L106.70,451.20 L108.56,451.20 L110.40,448.90 L112.46,448.90 L114.20,447.20 L116.86,447.20 L118.00,445.60 L120.89,445.60 L121.50,444.05 L123.88,444.05 L125.00,442.50 L127.41,442.50 L128.95,441.75 L132.25,441.75 L132.90,441.00 L134.13,441.00 L135.50,439.40 L138.11,439.40 L138.80,438.00 L140.67,438.00 L142.10,436.60 L144.12,436.60 L146.05,435.90 L148.03,435.90 L150.00,435.20 L150.75,435.20 L151.30,433.30 L154.01,433.30 L154.80,432.20 L156.64,432.20 L158.30,431.10 L160.69,431.10 L161.80,430.00 L163.63,430.00 L164.40,427.80 L166.38,427.80 L167.70,426.15 L169.91,426.15 L171.00,424.50 L173.21,424.50 L175.60,423.25 L177.80,423.25 L180.20,422.00 L182.29,422.00 L184.10,420.30 L187.41,420.30 L188.70,418.65 L191.56,418.65 L193.30,417.00 L195.61,417.00 L197.30,415.70 L672.00,415.70" stroke="#0072BD" clip-path="url(#cb)"/>

</g>
<rect x="469" y="16.5" width="203.00" height="193.00" fill="#fff" stroke="#262626" stroke-width="1"/>
<line x1="474.7" y1="31.10" x2="531.6" y2="31.10" stroke="#0072BD" stroke-width="2.7"/><text x="536.3" y="38.40" class="lg">Setpoint</text>
<line x1="474.7" y1="54.53" x2="531.6" y2="54.53" stroke="#D95319" stroke-width="2.7"/><text x="536.3" y="61.83" class="lg">PI</text>
<line x1="474.7" y1="77.96" x2="531.6" y2="77.96" stroke="#EDB120" stroke-width="2.7"/><text x="536.3" y="85.26" class="lg">FOPI</text>
<line x1="474.7" y1="101.39" x2="531.6" y2="101.39" stroke="#7E2F8E" stroke-width="2.7"/><text x="536.3" y="108.69" class="lg">PPI</text>
<line x1="474.7" y1="124.82" x2="531.6" y2="124.82" stroke="#77AC30" stroke-width="2.7"/><text x="536.3" y="132.12" class="lg">FOPPI</text>
<line x1="474.7" y1="148.25" x2="531.6" y2="148.25" stroke="#4DBEEE" stroke-width="2.7"/><text x="536.3" y="155.55" class="lg">Packet Loss 70%</text>
<line x1="474.7" y1="171.68" x2="531.6" y2="171.68" stroke="#A2142F" stroke-width="2.7"/><text x="536.3" y="178.98" class="lg">Packet Loss 80%</text>
<line x1="474.7" y1="195.11" x2="531.6" y2="195.11" stroke="#0072BD" stroke-width="2.7"/><text x="536.3" y="202.41" class="lg">Packet Loss 90%</text>

<text x="49.6" y="216.40" text-anchor="end" class="tk">0</text>
<text x="49.6" y="175.60" text-anchor="end" class="tk">0.5</text>
<text x="49.6" y="134.80" text-anchor="end" class="tk">1</text>
<text x="49.6" y="94.00" text-anchor="end" class="tk">1.5</text>
<text x="49.6" y="53.20" text-anchor="end" class="tk">2</text>
<text x="49.6" y="12.40" text-anchor="end" class="tk">2.5</text>
<text x="55.90" y="233.80" text-anchor="middle" class="tk">0</text>
<text x="261.27" y="233.80" text-anchor="middle" class="tk">50</text>
<text x="466.63" y="233.80" text-anchor="middle" class="tk">100</text>
<text x="672.00" y="233.80" text-anchor="middle" class="tk">150</text>

<text x="49.6" y="490.40" text-anchor="end" class="tk">0</text>
<text x="49.6" y="449.85" text-anchor="end" class="tk">0.5</text>
<text x="49.6" y="409.30" text-anchor="end" class="tk">1</text>
<text x="49.6" y="368.75" text-anchor="end" class="tk">1.5</text>
<text x="49.6" y="328.20" text-anchor="end" class="tk">2</text>
<text x="49.6" y="287.65" text-anchor="end" class="tk">2.5</text>
<text x="55.90" y="507.80" text-anchor="middle" class="tk">0</text>
<text x="261.27" y="507.80" text-anchor="middle" class="tk">50</text>
<text x="466.63" y="507.80" text-anchor="middle" class="tk">100</text>
<text x="672.00" y="507.80" text-anchor="middle" class="tk">150</text>

<text transform="translate(13.6,107.5) rotate(-90)" text-anchor="middle" class="lb">Process Output</text>
<text transform="translate(13.6,382.5) rotate(-90)" text-anchor="middle" class="lb">Control Signal (%)</text>
<text x="364" y="531" text-anchor="middle" class="lb">Time (s)</text>
</svg>
</body></html>
